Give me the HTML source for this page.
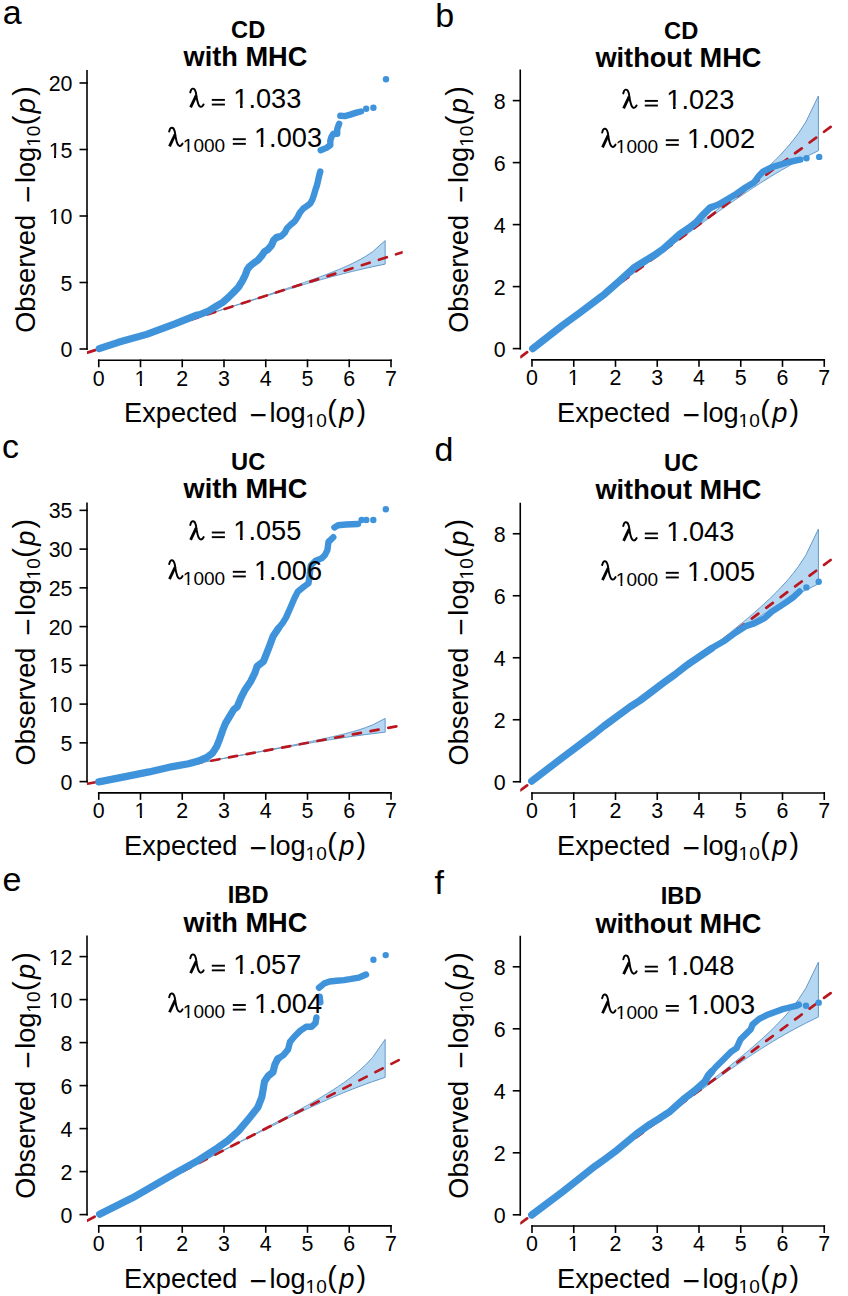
<!DOCTYPE html>
<html><head><meta charset="utf-8"><title>QQ plots</title><style>html,body{margin:0;padding:0;background:#fff;}svg{display:block;}</style></head><body>
<svg width="848" height="1296" viewBox="0 0 848 1296" font-family="&quot;Liberation Sans&quot;, sans-serif">
<rect width="848" height="1296" fill="#fff"/>
<clipPath id="clip00"><rect x="87" y="49" width="315.69" height="311.25"/></clipPath>
<polygon points="385.16,240.61 372.59,251.79 365.24,256.6 360.02,259.56 355.97,261.68 352.67,263.31 349.87,264.63 347.45,265.74 345.32,266.7 343.41,267.53 341.68,268.27 340.1,268.94 338.65,269.54 337.3,270.1 336.05,270.61 334.88,271.08 333.78,271.52 332.75,271.94 331.77,272.32 330.84,272.69 329.95,273.04 328.3,273.67 327.53,273.97 326.79,274.26 326.08,274.53 324.74,275.04 324.1,275.28 322.89,275.73 321.76,276.16 321.22,276.36 320.18,276.74 319.2,277.1 318.27,277.45 316.96,277.93 316.13,278.23 315.34,278.51 314.22,278.92 313.17,279.3 312.49,279.54 311.53,279.89 310.32,280.32 309.47,280.62 308.65,280.91 307.61,281.28 306.63,281.62 305.7,281.95 304.6,282.34 303.77,282.63 302.78,282.97 301.84,283.3 300.94,283.61 299.93,283.96 298.96,284.3 298.05,284.61 297.04,284.96 296.08,285.29 295.17,285.6 294.18,285.94 293.25,286.26 292.25,286.6 291.3,286.92 290.31,287.26 289.36,287.58 288.46,287.88 287.44,288.23 286.47,288.55 285.56,288.86 284.61,289.18 283.65,289.5 282.67,289.83 281.74,290.14 280.74,290.48 279.79,290.79 278.84,291.11 277.88,291.43 276.93,291.75 275.98,292.06 275,292.39 274.06,292.7 273.1,293.02 272.15,293.33 271.18,293.65 270.22,293.97 269.26,294.29 268.31,294.6 267.36,294.91 266.4,295.23 265.44,295.54 264.48,295.86 263.53,296.17 262.56,296.49 261.62,296.8 260.65,297.11 259.69,297.43 258.73,297.74 257.77,298.06 256.81,298.37 255.86,298.68 254.9,298.99 253.95,299.3 252.98,299.62 252.03,299.93 251.07,300.24 250.11,300.55 249.16,300.86 248.2,301.17 247.24,301.48 246.28,301.79 245.32,302.1 244.37,302.41 243.41,302.73 242.45,303.03 241.5,303.34 240.54,303.65 239.58,303.96 238.62,304.27 237.66,304.58 236.7,304.89 235.75,305.2 234.79,305.51 233.83,305.82 232.88,306.13 231.92,306.44 230.96,306.75 230,307.06 229.04,307.36 228.09,307.67 227.13,307.98 226.17,308.29 225.21,308.6 224.26,308.91 223.3,309.21 222.34,309.52 221.38,309.83 220.42,310.14 219.47,310.45 218.51,310.75 217.55,311.06 216.59,311.37 215.64,311.68 214.68,311.98 213.72,312.29 212.76,312.6 211.8,312.91 210.85,313.21 209.89,313.52 208.93,313.83 207.97,314.13 207.02,314.44 206.06,314.75 205.1,315.05 204.14,315.36 203.18,315.67 202.23,315.97 201.27,316.28 200.31,316.59 199.35,316.89 198.4,317.2 197.44,317.51 196.48,317.81 195.52,318.12 194.57,318.43 193.61,318.73 192.65,319.04 191.69,319.35 190.73,319.65 189.78,319.96 188.82,320.27 187.86,320.57 186.9,320.88 185.95,321.18 184.99,321.49 184.03,321.8 183.07,322.1 182.11,322.41 181.16,322.71 180.2,323.02 179.24,323.33 178.28,323.63 177.33,323.94 176.37,324.24 175.41,324.55 174.45,324.86 173.5,325.16 172.54,325.47 171.58,325.77 170.62,326.08 169.66,326.38 168.71,326.69 167.75,327 166.79,327.3 165.83,327.61 164.88,327.91 163.92,328.22 162.96,328.52 162,328.83 161.04,329.14 160.09,329.44 159.13,329.75 158.17,330.05 157.21,330.36 156.26,330.66 155.3,330.97 154.34,331.27 153.38,331.58 152.42,331.89 151.47,332.19 150.51,332.5 149.55,332.8 148.59,333.11 147.64,333.41 146.68,333.72 145.72,334.02 144.76,334.33 143.81,334.64 142.85,334.94 141.89,335.25 140.93,335.55 139.97,335.86 139.02,336.16 138.06,336.47 137.1,336.77 136.14,337.08 135.19,337.38 134.23,337.69 133.27,337.99 132.31,338.3 131.35,338.61 130.4,338.91 129.44,339.22 128.48,339.52 127.52,339.83 126.57,340.13 125.61,340.44 124.65,340.74 123.69,341.05 122.74,341.35 121.78,341.66 120.82,341.96 119.86,342.27 118.9,342.57 117.95,342.88 116.99,343.19 116.03,343.49 115.07,343.8 114.12,344.1 113.16,344.41 112.2,344.71 111.24,345.02 110.28,345.32 109.33,345.63 108.37,345.93 107.41,346.24 106.45,346.54 105.5,346.85 104.54,347.15 103.58,347.46 102.62,347.76 101.66,348.07 100.71,348.38 99.75,348.68 98.79,348.99 98.79,348.99 99.75,348.68 100.71,348.38 101.66,348.07 102.62,347.77 103.58,347.46 104.54,347.16 105.5,346.85 106.45,346.55 107.41,346.24 108.37,345.94 109.33,345.63 110.28,345.33 111.24,345.02 112.2,344.72 113.16,344.41 114.12,344.11 115.07,343.8 116.03,343.5 116.99,343.19 117.95,342.89 118.9,342.58 119.86,342.28 120.82,341.97 121.78,341.67 122.74,341.37 123.69,341.06 124.65,340.76 125.61,340.45 126.57,340.15 127.52,339.84 128.48,339.54 129.44,339.23 130.4,338.93 131.35,338.62 132.31,338.32 133.27,338.01 134.23,337.71 135.19,337.4 136.14,337.1 137.1,336.79 138.06,336.49 139.02,336.18 139.97,335.88 140.93,335.57 141.89,335.27 142.85,334.96 143.81,334.66 144.76,334.35 145.72,334.05 146.68,333.74 147.64,333.44 148.59,333.14 149.55,332.83 150.51,332.53 151.47,332.22 152.42,331.92 153.38,331.61 154.34,331.31 155.3,331 156.26,330.7 157.21,330.39 158.17,330.09 159.13,329.78 160.09,329.48 161.04,329.17 162,328.87 162.96,328.57 163.92,328.26 164.88,327.96 165.83,327.65 166.79,327.35 167.75,327.04 168.71,326.74 169.66,326.43 170.62,326.13 171.58,325.83 172.54,325.52 173.5,325.22 174.45,324.91 175.41,324.61 176.37,324.3 177.33,324 178.28,323.69 179.24,323.39 180.2,323.09 181.16,322.78 182.11,322.48 183.07,322.17 184.03,321.87 184.99,321.57 185.95,321.26 186.9,320.96 187.86,320.65 188.82,320.35 189.78,320.05 190.73,319.74 191.69,319.44 192.65,319.13 193.61,318.83 194.57,318.53 195.52,318.22 196.48,317.92 197.44,317.61 198.4,317.31 199.35,317.01 200.31,316.7 201.27,316.4 202.23,316.1 203.18,315.79 204.14,315.49 205.1,315.19 206.06,314.88 207.02,314.58 207.97,314.28 208.93,313.97 209.89,313.67 210.85,313.37 211.8,313.06 212.76,312.76 213.72,312.46 214.68,312.16 215.64,311.85 216.59,311.55 217.55,311.25 218.51,310.94 219.47,310.64 220.42,310.34 221.38,310.04 222.34,309.73 223.3,309.43 224.26,309.13 225.21,308.83 226.17,308.53 227.13,308.22 228.09,307.92 229.04,307.62 230,307.32 230.96,307.02 231.92,306.72 232.88,306.41 233.83,306.11 234.79,305.81 235.75,305.51 236.7,305.21 237.66,304.91 238.62,304.61 239.58,304.31 240.54,304.01 241.5,303.71 242.45,303.4 243.41,303.11 244.37,302.81 245.32,302.51 246.28,302.21 247.24,301.91 248.2,301.61 249.16,301.31 250.11,301.01 251.07,300.71 252.03,300.41 252.98,300.11 253.95,299.81 254.9,299.52 255.86,299.22 256.81,298.92 257.77,298.62 258.73,298.32 259.69,298.03 260.65,297.73 261.62,297.43 262.56,297.14 263.53,296.84 264.48,296.54 265.44,296.24 266.4,295.95 267.36,295.65 268.31,295.36 269.26,295.06 270.22,294.77 271.18,294.47 272.15,294.17 273.1,293.88 274.06,293.59 275,293.3 275.98,293 276.93,292.71 277.88,292.42 278.84,292.12 279.79,291.83 280.74,291.55 281.74,291.24 282.67,290.96 283.65,290.66 284.61,290.37 285.56,290.08 286.47,289.8 287.44,289.51 288.46,289.2 289.36,288.93 290.31,288.65 291.3,288.35 292.25,288.07 293.25,287.77 294.18,287.49 295.17,287.19 296.08,286.92 297.04,286.64 298.05,286.34 298.96,286.06 299.93,285.78 300.94,285.48 301.84,285.22 302.78,284.94 303.77,284.65 304.6,284.4 305.7,284.08 306.63,283.81 307.61,283.52 308.65,283.22 309.47,282.99 310.32,282.74 311.53,282.39 312.49,282.11 313.17,281.92 314.22,281.62 315.34,281.3 316.13,281.07 316.96,280.84 318.27,280.47 319.2,280.2 320.18,279.93 321.22,279.64 321.76,279.48 322.89,279.17 324.1,278.83 324.74,278.66 326.08,278.28 326.79,278.09 327.53,277.89 328.3,277.67 329.95,277.22 330.84,276.98 331.77,276.73 332.75,276.47 333.78,276.19 334.88,275.9 336.05,275.59 337.3,275.26 338.65,274.9 340.1,274.52 341.68,274.11 343.41,273.67 345.32,273.18 347.45,272.64 349.87,272.04 352.67,271.35 355.97,270.55 360.02,269.59 365.24,268.39 372.59,266.75 385.16,264.1" fill="#b6d7f1" stroke="#6499c9" stroke-width="1" stroke-linejoin="round"/>
<line x1="87" y1="352.74" x2="402.69" y2="252.18" stroke="#b9161f" stroke-width="2.7" stroke-linecap="round" stroke-dasharray="8.2 9.8" stroke-dashoffset="-0.4" clip-path="url(#clip00)"/>
<path d="M99.2 348.6 L118.3 342.3 L146.6 334.4 L174.9 323.8 L196.1 315.3 L200 314.5 L208.5 311 L215.6 306.7 L222.6 302.5 L228.3 297.5 L234 291.9 L238.2 287.6 L242.5 280.7 L245.3 275 L247.4 269.3 L249.5 266.5 L253.8 263 L258 260.1 L261.6 255.9 L264.4 251.7 L267.9 249.5 L271.5 245.3 L273.6 240.3 L276.4 237.5 L278.27 236.97" fill="none" stroke="#3f93db" stroke-width="7.2" stroke-linecap="round" stroke-linejoin="round"/>
<path d="M278.27 236.97 L281.4 236.1 L284.9 232.5 L287 228.3 L290.6 224.8 L294.8 221.2 L297.6 217 L299.8 212.7 L303.3 208.5 L307.5 205.7 L310.4 203.3 L312.3 199.8 L314 194.8 L315.4 189.9 L317.1 184.9 L318.2 180 L319.3 175 L320.3 171.5" fill="none" stroke="#3f93db" stroke-width="6.4" stroke-linecap="round" stroke-linejoin="round"/>
<path d="M320.7 150.2 L326.5 147.9 L330.3 145.2 L330.3 140.6 L331.5 136.8 L333.4 133.7 L337.2 133.7 L337.2 129.1 L339.1 123.8" fill="none" stroke="#3f93db" stroke-width="6.4" stroke-linecap="round" stroke-linejoin="round"/>
<path d="M340.3 115.7 L344.9 116.1 L349.5 114.9 L356.4 112.6 L361 111.5" fill="none" stroke="#3f93db" stroke-width="6.4" stroke-linecap="round" stroke-linejoin="round"/>
<circle cx="366.2" cy="108.7" r="3.2" fill="#3f93db"/>
<circle cx="373.4" cy="107.7" r="3.2" fill="#3f93db"/>
<circle cx="386" cy="79.2" r="3.2" fill="#3f93db"/>
<path d="M87 70 V349.8" stroke="#000" stroke-width="1.6" fill="none"/>
<path d="M79.5 349 H87.8" stroke="#000" stroke-width="1.6"/>
<text x="72.5" y="357" font-size="21.4" text-anchor="end">0</text>
<path d="M79.5 282.5 H87.8" stroke="#000" stroke-width="1.6"/>
<text x="72.5" y="290.5" font-size="21.4" text-anchor="end">5</text>
<path d="M79.5 216 H87.8" stroke="#000" stroke-width="1.6"/>
<text x="72.5" y="224" font-size="21.4" text-anchor="end">10</text>
<rect x="49.06" y="221.2" width="4.93" height="3.8" fill="#fff"/>
<rect x="56.05" y="221.2" width="4.57" height="3.8" fill="#fff"/>
<path d="M79.5 149.5 H87.8" stroke="#000" stroke-width="1.6"/>
<text x="72.5" y="157.5" font-size="21.4" text-anchor="end">15</text>
<rect x="49.06" y="154.7" width="4.93" height="3.8" fill="#fff"/>
<rect x="56.05" y="154.7" width="4.57" height="3.8" fill="#fff"/>
<path d="M79.5 83 H87.8" stroke="#000" stroke-width="1.6"/>
<text x="72.5" y="91" font-size="21.4" text-anchor="end">20</text>
<path d="M97.95 360.25 H391.8" stroke="#000" stroke-width="1.6" fill="none"/>
<path d="M98.75 359.45 V367.25" stroke="#000" stroke-width="1.6"/>
<text x="98.75" y="385.5" font-size="21.4" text-anchor="middle">0</text>
<path d="M140.5 359.45 V367.25" stroke="#000" stroke-width="1.6"/>
<text x="140.5" y="385.5" font-size="21.4" text-anchor="middle">1</text>
<rect x="134.92" y="382.7" width="4.93" height="3.8" fill="#fff"/>
<rect x="141.9" y="382.7" width="4.57" height="3.8" fill="#fff"/>
<path d="M182.25 359.45 V367.25" stroke="#000" stroke-width="1.6"/>
<text x="182.25" y="385.5" font-size="21.4" text-anchor="middle">2</text>
<path d="M224 359.45 V367.25" stroke="#000" stroke-width="1.6"/>
<text x="224" y="385.5" font-size="21.4" text-anchor="middle">3</text>
<path d="M265.75 359.45 V367.25" stroke="#000" stroke-width="1.6"/>
<text x="265.75" y="385.5" font-size="21.4" text-anchor="middle">4</text>
<path d="M307.5 359.45 V367.25" stroke="#000" stroke-width="1.6"/>
<text x="307.5" y="385.5" font-size="21.4" text-anchor="middle">5</text>
<path d="M349.25 359.45 V367.25" stroke="#000" stroke-width="1.6"/>
<text x="349.25" y="385.5" font-size="21.4" text-anchor="middle">6</text>
<path d="M391 359.45 V367.25" stroke="#000" stroke-width="1.6"/>
<text x="391" y="385.5" font-size="21.4" text-anchor="middle">7</text>
<text x="124.1" y="422" font-size="27.2">Expected</text>
<text x="249.4" y="425.1" font-size="29.8">−</text>
<text x="269.4" y="422" font-size="27.2">log</text>
<text x="305.6" y="427" font-size="19.04">10</text>
<rect x="305.79" y="424.38" width="4.51" height="3.62" fill="#fff"/>
<rect x="312.15" y="424.38" width="4.16" height="3.62" fill="#fff"/>
<text x="327.2" y="421.2" font-size="28.8">(</text>
<text x="339.2" y="422" font-size="27.2" font-style="italic">p</text>
<text x="356.6" y="421.2" font-size="28.8">)</text>
<g transform="translate(35.1 332.85) rotate(-90)">
<text x="0" y="0" font-size="27.2">Observed</text>
<text x="129.8" y="3.1" font-size="29.8">−</text>
<text x="149.8" y="0" font-size="27.2">log</text>
<text x="186" y="5" font-size="19.04">10</text>
<rect x="186.19" y="2.38" width="4.51" height="3.62" fill="#fff"/>
<rect x="192.55" y="2.38" width="4.16" height="3.62" fill="#fff"/>
<text x="207.6" y="-0.8" font-size="28.8">(</text>
<text x="219.6" y="0" font-size="27.2" font-style="italic">p</text>
<text x="237" y="-0.8" font-size="28.8">)</text>
</g>
<text x="248.15" y="37.6" font-size="23.7" text-anchor="middle" font-weight="bold">CD</text>
<text x="245.45" y="65.8" font-size="27.2" text-anchor="middle" font-weight="bold">with MHC</text>
<path d="M190.28 92.4 C190.43 91.95 190.8 90.33 191.19 89.7 C191.58 89.07 192.05 88.68 192.61 88.63 C193.17 88.58 194.02 88.76 194.56 89.4 C195.1 90.05 195.54 91.28 195.86 92.5 C196.18 93.72 196.24 95.27 196.5 96.7 C196.76 98.13 197.04 99.7 197.41 101.08 C197.78 102.46 198.18 104.02 198.7 104.97 C199.22 105.92 199.92 106.57 200.53 106.79 C201.14 107.01 201.82 106.66 202.34 106.27 C202.86 105.88 203.42 104.75 203.64 104.45" fill="none" stroke="#000" stroke-width="1.95" stroke-linecap="round" stroke-linejoin="round"/>
<path d="M196.25 95.3 L190.6 107.35" fill="none" stroke="#000" stroke-width="2.8" stroke-linecap="butt"/>
<rect x="211.8" y="98.95" width="13.1" height="1.9"/>
<rect x="211.8" y="103.6" width="13.1" height="1.9"/>
<text x="233.3" y="107.7" font-size="27.2">1.033</text>
<rect x="234.09" y="104.47" width="5.97" height="4.23" fill="#fff"/>
<rect x="242.62" y="104.47" width="5.56" height="4.23" fill="#fff"/>
<path d="M169.18 131.5 C169.33 131.05 169.7 129.43 170.09 128.8 C170.48 128.17 170.95 127.78 171.51 127.73 C172.07 127.68 172.92 127.86 173.46 128.5 C174 129.15 174.44 130.38 174.76 131.6 C175.08 132.82 175.14 134.37 175.4 135.8 C175.66 137.23 175.94 138.8 176.31 140.18 C176.68 141.56 177.08 143.12 177.6 144.07 C178.12 145.02 178.82 145.67 179.43 145.89 C180.04 146.11 180.72 145.76 181.24 145.37 C181.76 144.98 182.32 143.85 182.54 143.55" fill="none" stroke="#000" stroke-width="1.95" stroke-linecap="round" stroke-linejoin="round"/>
<path d="M175.15 134.4 L169.5 146.45" fill="none" stroke="#000" stroke-width="2.8" stroke-linecap="butt"/>
<text x="182.8" y="152.2" font-size="19.04">1000</text>
<rect x="182.99" y="149.58" width="4.51" height="3.62" fill="#fff"/>
<rect x="189.35" y="149.58" width="4.16" height="3.62" fill="#fff"/>
<rect x="232.8" y="138.25" width="13" height="1.9"/>
<rect x="232.8" y="142.9" width="13" height="1.9"/>
<text x="254" y="147" font-size="27.2">1.003</text>
<rect x="254.79" y="143.77" width="5.97" height="4.23" fill="#fff"/>
<rect x="263.32" y="143.77" width="5.56" height="4.23" fill="#fff"/>
<text x="2.76" y="24.4" font-size="34">a</text>
<clipPath id="clip10"><rect x="520.25" y="48.6" width="315.69" height="311.25"/></clipPath>
<polygon points="818.41,95.95 805.84,122.01 798.49,133.23 793.27,140.14 789.22,145.07 785.92,148.87 783.12,151.95 780.7,154.54 778.57,156.76 776.66,158.71 774.93,160.44 773.35,161.99 771.9,163.4 770.55,164.69 769.3,165.89 768.13,166.99 767.03,168.02 766,168.98 765.02,169.88 764.09,170.73 763.2,171.54 761.55,173.03 760.78,173.72 760.04,174.38 759.33,175.02 757.99,176.2 757.35,176.76 756.14,177.82 755.01,178.81 754.47,179.28 753.43,180.18 752.45,181.02 751.52,181.82 750.21,182.94 749.38,183.64 748.59,184.3 747.47,185.25 746.42,186.14 745.74,186.7 744.78,187.51 743.57,188.51 742.72,189.22 741.9,189.9 740.86,190.75 739.88,191.56 738.95,192.32 737.85,193.22 737.02,193.9 736.03,194.71 735.09,195.47 734.19,196.19 733.18,197.01 732.21,197.79 731.3,198.52 730.29,199.33 729.33,200.1 728.42,200.83 727.43,201.61 726.5,202.36 725.5,203.15 724.55,203.9 723.56,204.69 722.61,205.44 721.71,206.14 720.69,206.95 719.72,207.71 718.81,208.43 717.86,209.17 716.9,209.92 715.92,210.69 714.99,211.42 713.99,212.19 713.04,212.93 712.09,213.67 711.13,214.41 710.18,215.15 709.23,215.88 708.25,216.65 707.31,217.37 706.35,218.11 705.4,218.85 704.43,219.59 703.47,220.33 702.51,221.07 701.56,221.8 700.61,222.53 699.65,223.27 698.69,224 697.73,224.73 696.78,225.46 695.81,226.21 694.87,226.92 693.9,227.66 692.94,228.39 691.98,229.13 691.02,229.86 690.06,230.58 689.11,231.31 688.15,232.04 687.2,232.76 686.23,233.5 685.28,234.22 684.32,234.95 683.36,235.67 682.41,236.39 681.45,237.12 680.49,237.85 679.53,238.57 678.57,239.29 677.62,240.02 676.66,240.74 675.7,241.46 674.75,242.18 673.79,242.91 672.83,243.63 671.87,244.35 670.91,245.07 669.95,245.79 669,246.52 668.04,247.23 667.08,247.96 666.13,248.67 665.17,249.39 664.21,250.11 663.25,250.83 662.29,251.55 661.34,252.27 660.38,252.99 659.42,253.71 658.46,254.43 657.51,255.15 656.55,255.87 655.59,256.58 654.63,257.3 653.67,258.02 652.72,258.74 651.76,259.45 650.8,260.17 649.84,260.89 648.89,261.6 647.93,262.32 646.97,263.04 646.01,263.75 645.05,264.47 644.1,265.18 643.14,265.9 642.18,266.62 641.22,267.33 640.27,268.05 639.31,268.76 638.35,269.48 637.39,270.19 636.43,270.91 635.48,271.62 634.52,272.34 633.56,273.05 632.6,273.77 631.65,274.48 630.69,275.2 629.73,275.91 628.77,276.63 627.82,277.34 626.86,278.05 625.9,278.77 624.94,279.48 623.98,280.2 623.03,280.91 622.07,281.62 621.11,282.34 620.15,283.05 619.2,283.76 618.24,284.48 617.28,285.19 616.32,285.91 615.36,286.62 614.41,287.33 613.45,288.05 612.49,288.76 611.53,289.47 610.58,290.18 609.62,290.9 608.66,291.61 607.7,292.32 606.75,293.04 605.79,293.75 604.83,294.46 603.87,295.17 602.91,295.89 601.96,296.6 601,297.31 600.04,298.03 599.08,298.74 598.13,299.45 597.17,300.16 596.21,300.88 595.25,301.59 594.29,302.3 593.34,303.01 592.38,303.72 591.42,304.44 590.46,305.15 589.51,305.86 588.55,306.57 587.59,307.29 586.63,308 585.67,308.71 584.72,309.42 583.76,310.13 582.8,310.85 581.84,311.56 580.89,312.27 579.93,312.98 578.97,313.69 578.01,314.41 577.06,315.12 576.1,315.83 575.14,316.54 574.18,317.25 573.22,317.97 572.27,318.68 571.31,319.39 570.35,320.1 569.39,320.81 568.44,321.52 567.48,322.24 566.52,322.95 565.56,323.66 564.6,324.37 563.65,325.08 562.69,325.8 561.73,326.51 560.77,327.22 559.82,327.93 558.86,328.64 557.9,329.35 556.94,330.07 555.99,330.78 555.03,331.49 554.07,332.2 553.11,332.91 552.15,333.62 551.2,334.34 550.24,335.05 549.28,335.76 548.32,336.47 547.37,337.18 546.41,337.89 545.45,338.6 544.49,339.32 543.53,340.03 542.58,340.74 541.62,341.45 540.66,342.16 539.7,342.87 538.75,343.59 537.79,344.3 536.83,345.01 535.87,345.72 534.91,346.43 533.96,347.14 533,347.86 532.04,348.57 532.04,348.57 533,347.86 533.96,347.15 534.91,346.44 535.87,345.73 536.83,345.02 537.79,344.31 538.75,343.6 539.7,342.89 540.66,342.18 541.62,341.46 542.58,340.75 543.53,340.04 544.49,339.33 545.45,338.62 546.41,337.91 547.37,337.2 548.32,336.49 549.28,335.78 550.24,335.07 551.2,334.36 552.15,333.65 553.11,332.94 554.07,332.23 555.03,331.51 555.99,330.8 556.94,330.09 557.9,329.38 558.86,328.67 559.82,327.96 560.77,327.25 561.73,326.54 562.69,325.83 563.65,325.12 564.6,324.41 565.56,323.7 566.52,322.99 567.48,322.28 568.44,321.57 569.39,320.86 570.35,320.15 571.31,319.44 572.27,318.72 573.22,318.01 574.18,317.3 575.14,316.59 576.1,315.88 577.06,315.17 578.01,314.46 578.97,313.75 579.93,313.04 580.89,312.33 581.84,311.62 582.8,310.91 583.76,310.2 584.72,309.49 585.67,308.78 586.63,308.07 587.59,307.36 588.55,306.65 589.51,305.94 590.46,305.23 591.42,304.52 592.38,303.81 593.34,303.1 594.29,302.39 595.25,301.68 596.21,300.97 597.17,300.26 598.13,299.55 599.08,298.84 600.04,298.13 601,297.42 601.96,296.71 602.91,296 603.87,295.29 604.83,294.58 605.79,293.87 606.75,293.16 607.7,292.46 608.66,291.75 609.62,291.04 610.58,290.33 611.53,289.62 612.49,288.91 613.45,288.2 614.41,287.49 615.36,286.78 616.32,286.07 617.28,285.36 618.24,284.66 619.2,283.95 620.15,283.24 621.11,282.53 622.07,281.82 623.03,281.11 623.98,280.4 624.94,279.7 625.9,278.99 626.86,278.28 627.82,277.57 628.77,276.86 629.73,276.15 630.69,275.45 631.65,274.74 632.6,274.03 633.56,273.32 634.52,272.62 635.48,271.91 636.43,271.2 637.39,270.49 638.35,269.79 639.31,269.08 640.27,268.37 641.22,267.67 642.18,266.96 643.14,266.25 644.1,265.55 645.05,264.84 646.01,264.13 646.97,263.43 647.93,262.72 648.89,262.02 649.84,261.31 650.8,260.61 651.76,259.9 652.72,259.19 653.67,258.49 654.63,257.79 655.59,257.08 656.55,256.38 657.51,255.67 658.46,254.97 659.42,254.26 660.38,253.56 661.34,252.86 662.29,252.15 663.25,251.45 664.21,250.74 665.17,250.04 666.13,249.34 667.08,248.64 668.04,247.93 669,247.23 669.95,246.53 670.91,245.83 671.87,245.13 672.83,244.43 673.79,243.73 674.75,243.03 675.7,242.33 676.66,241.63 677.62,240.93 678.57,240.23 679.53,239.53 680.49,238.83 681.45,238.13 682.41,237.44 683.36,236.74 684.32,236.04 685.28,235.34 686.23,234.65 687.2,233.95 688.15,233.26 689.11,232.56 690.06,231.87 691.02,231.18 691.98,230.48 692.94,229.79 693.9,229.09 694.87,228.39 695.81,227.71 696.78,227.01 697.73,226.32 698.69,225.63 699.65,224.94 700.61,224.25 701.56,223.56 702.51,222.88 703.47,222.19 704.43,221.51 705.4,220.81 706.35,220.13 707.31,219.44 708.25,218.77 709.23,218.07 710.18,217.39 711.13,216.71 712.09,216.03 713.04,215.36 713.99,214.68 714.99,213.97 715.92,213.32 716.9,212.62 717.86,211.94 718.81,211.27 719.72,210.62 720.69,209.94 721.71,209.22 722.61,208.59 723.56,207.93 724.55,207.23 725.5,206.57 726.5,205.88 727.43,205.22 728.42,204.54 729.33,203.9 730.29,203.24 731.3,202.54 732.21,201.91 733.18,201.24 734.19,200.54 735.09,199.93 736.03,199.28 737.02,198.61 737.85,198.04 738.95,197.29 739.88,196.65 740.86,195.99 741.9,195.29 742.72,194.73 743.57,194.16 744.78,193.34 745.74,192.7 746.42,192.25 747.47,191.54 748.59,190.79 749.38,190.27 750.21,189.72 751.52,188.86 752.45,188.25 753.43,187.6 754.47,186.93 755.01,186.57 756.14,185.83 757.35,185.05 757.99,184.64 759.33,183.77 760.04,183.32 760.78,182.84 761.55,182.35 763.2,181.3 764.09,180.74 765.02,180.16 766,179.54 767.03,178.89 768.13,178.21 769.3,177.49 770.55,176.71 771.9,175.89 773.35,175.01 774.93,174.05 776.66,173.02 778.57,171.88 780.7,170.62 783.12,169.22 785.92,167.61 789.22,165.75 793.27,163.51 798.49,160.71 805.84,156.9 818.41,150.71" fill="#b6d7f1" stroke="#6499c9" stroke-width="1" stroke-linejoin="round"/>
<line x1="520.25" y1="357.32" x2="835.94" y2="122.92" stroke="#b9161f" stroke-width="2.7" stroke-linecap="round" stroke-dasharray="8.2 9.8" stroke-dashoffset="-0.4" clip-path="url(#clip10)"/>
<path d="M532.7 348.6 L562.5 325.4 L580 312.7 L604.9 293.8 L620 280.5 L633.8 267.9 L644.2 261.3 L653.6 255.7 L663 249.1 L672.5 240.6 L680 234 L688.5 228.3 L696 222.6 L703.6 214.2 L710.1 207.8 L711.52 207.23" fill="none" stroke="#3f93db" stroke-width="7.2" stroke-linecap="round" stroke-linejoin="round"/>
<path d="M711.52 207.23 L718.9 204.3 L727.8 199 L736.6 193.7 L745.5 187.5 L754.3 182.2 L758.7 176 L763.1 171.6 L772 167.1 L780.8 164.5 L789.7 161.8 L797.6 160.1 L800.3 159.7" fill="none" stroke="#3f93db" stroke-width="6.4" stroke-linecap="round" stroke-linejoin="round"/>
<circle cx="806.5" cy="158.3" r="3.2" fill="#3f93db"/>
<circle cx="819.2" cy="156.9" r="3.2" fill="#3f93db"/>
<path d="M520.25 69.6 V349.4" stroke="#000" stroke-width="1.6" fill="none"/>
<path d="M512.75 348.6 H521.05" stroke="#000" stroke-width="1.6"/>
<text x="505.75" y="356.6" font-size="21.4" text-anchor="end">0</text>
<path d="M512.75 286.6 H521.05" stroke="#000" stroke-width="1.6"/>
<text x="505.75" y="294.6" font-size="21.4" text-anchor="end">2</text>
<path d="M512.75 224.6 H521.05" stroke="#000" stroke-width="1.6"/>
<text x="505.75" y="232.6" font-size="21.4" text-anchor="end">4</text>
<path d="M512.75 162.6 H521.05" stroke="#000" stroke-width="1.6"/>
<text x="505.75" y="170.6" font-size="21.4" text-anchor="end">6</text>
<path d="M512.75 100.6 H521.05" stroke="#000" stroke-width="1.6"/>
<text x="505.75" y="108.6" font-size="21.4" text-anchor="end">8</text>
<path d="M531.2 359.85 H825.05" stroke="#000" stroke-width="1.6" fill="none"/>
<path d="M532 359.05 V366.85" stroke="#000" stroke-width="1.6"/>
<text x="532" y="385.1" font-size="21.4" text-anchor="middle">0</text>
<path d="M573.75 359.05 V366.85" stroke="#000" stroke-width="1.6"/>
<text x="573.75" y="385.1" font-size="21.4" text-anchor="middle">1</text>
<rect x="568.17" y="382.3" width="4.93" height="3.8" fill="#fff"/>
<rect x="575.15" y="382.3" width="4.57" height="3.8" fill="#fff"/>
<path d="M615.5 359.05 V366.85" stroke="#000" stroke-width="1.6"/>
<text x="615.5" y="385.1" font-size="21.4" text-anchor="middle">2</text>
<path d="M657.25 359.05 V366.85" stroke="#000" stroke-width="1.6"/>
<text x="657.25" y="385.1" font-size="21.4" text-anchor="middle">3</text>
<path d="M699 359.05 V366.85" stroke="#000" stroke-width="1.6"/>
<text x="699" y="385.1" font-size="21.4" text-anchor="middle">4</text>
<path d="M740.75 359.05 V366.85" stroke="#000" stroke-width="1.6"/>
<text x="740.75" y="385.1" font-size="21.4" text-anchor="middle">5</text>
<path d="M782.5 359.05 V366.85" stroke="#000" stroke-width="1.6"/>
<text x="782.5" y="385.1" font-size="21.4" text-anchor="middle">6</text>
<path d="M824.25 359.05 V366.85" stroke="#000" stroke-width="1.6"/>
<text x="824.25" y="385.1" font-size="21.4" text-anchor="middle">7</text>
<text x="557.1" y="421.6" font-size="27.2">Expected</text>
<text x="682.4" y="424.7" font-size="29.8">−</text>
<text x="702.4" y="421.6" font-size="27.2">log</text>
<text x="738.6" y="426.6" font-size="19.04">10</text>
<rect x="738.79" y="423.98" width="4.51" height="3.62" fill="#fff"/>
<rect x="745.15" y="423.98" width="4.16" height="3.62" fill="#fff"/>
<text x="760.2" y="420.8" font-size="28.8">(</text>
<text x="772.2" y="421.6" font-size="27.2" font-style="italic">p</text>
<text x="789.6" y="420.8" font-size="28.8">)</text>
<g transform="translate(468.1 332.85) rotate(-90)">
<text x="0" y="0" font-size="27.2">Observed</text>
<text x="129.8" y="3.1" font-size="29.8">−</text>
<text x="149.8" y="0" font-size="27.2">log</text>
<text x="186" y="5" font-size="19.04">10</text>
<rect x="186.19" y="2.38" width="4.51" height="3.62" fill="#fff"/>
<rect x="192.55" y="2.38" width="4.16" height="3.62" fill="#fff"/>
<text x="207.6" y="-0.8" font-size="28.8">(</text>
<text x="219.6" y="0" font-size="27.2" font-style="italic">p</text>
<text x="237" y="-0.8" font-size="28.8">)</text>
</g>
<text x="681.15" y="38.6" font-size="23.7" text-anchor="middle" font-weight="bold">CD</text>
<text x="678.45" y="66.8" font-size="27.2" text-anchor="middle" font-weight="bold">without MHC</text>
<path d="M623.28 93.4 C623.43 92.95 623.8 91.33 624.19 90.7 C624.58 90.07 625.05 89.68 625.61 89.63 C626.17 89.58 627.02 89.76 627.56 90.4 C628.1 91.05 628.54 92.28 628.86 93.5 C629.18 94.72 629.24 96.27 629.5 97.7 C629.76 99.13 630.04 100.7 630.41 102.08 C630.78 103.46 631.18 105.02 631.7 105.97 C632.22 106.92 632.92 107.57 633.53 107.79 C634.14 108.01 634.82 107.66 635.34 107.27 C635.86 106.88 636.42 105.75 636.64 105.45" fill="none" stroke="#000" stroke-width="1.95" stroke-linecap="round" stroke-linejoin="round"/>
<path d="M629.25 96.3 L623.6 108.35" fill="none" stroke="#000" stroke-width="2.8" stroke-linecap="butt"/>
<rect x="644.8" y="99.95" width="13.1" height="1.9"/>
<rect x="644.8" y="104.6" width="13.1" height="1.9"/>
<text x="666.3" y="108.7" font-size="27.2">1.023</text>
<rect x="667.09" y="105.47" width="5.97" height="4.23" fill="#fff"/>
<rect x="675.62" y="105.47" width="5.56" height="4.23" fill="#fff"/>
<path d="M602.18 132.5 C602.33 132.05 602.7 130.43 603.09 129.8 C603.48 129.17 603.95 128.78 604.51 128.73 C605.07 128.68 605.92 128.85 606.46 129.5 C607 130.15 607.44 131.38 607.76 132.6 C608.08 133.82 608.14 135.37 608.4 136.8 C608.66 138.23 608.94 139.8 609.31 141.18 C609.68 142.56 610.08 144.12 610.6 145.07 C611.12 146.02 611.82 146.67 612.43 146.89 C613.04 147.11 613.72 146.76 614.24 146.37 C614.76 145.98 615.32 144.85 615.54 144.55" fill="none" stroke="#000" stroke-width="1.95" stroke-linecap="round" stroke-linejoin="round"/>
<path d="M608.15 135.4 L602.5 147.45" fill="none" stroke="#000" stroke-width="2.8" stroke-linecap="butt"/>
<text x="615.8" y="153.2" font-size="19.04">1000</text>
<rect x="615.99" y="150.58" width="4.51" height="3.62" fill="#fff"/>
<rect x="622.35" y="150.58" width="4.16" height="3.62" fill="#fff"/>
<rect x="665.8" y="139.25" width="13" height="1.9"/>
<rect x="665.8" y="143.9" width="13" height="1.9"/>
<text x="687" y="148" font-size="27.2">1.002</text>
<rect x="687.79" y="144.77" width="5.97" height="4.23" fill="#fff"/>
<rect x="696.32" y="144.77" width="5.56" height="4.23" fill="#fff"/>
<text x="435.2" y="27" font-size="34">b</text>
<clipPath id="clip01"><rect x="87" y="481.6" width="315.69" height="311.25"/></clipPath>
<polygon points="385.16,718.44 372.59,724.95 365.24,727.76 360.02,729.49 355.97,730.72 352.67,731.67 349.87,732.44 347.45,733.08 345.32,733.64 343.41,734.13 341.68,734.56 340.1,734.95 338.65,735.3 337.3,735.62 336.05,735.92 334.88,736.2 333.78,736.45 332.75,736.69 331.77,736.92 330.84,737.13 329.95,737.33 328.3,737.71 327.53,737.88 326.79,738.05 326.08,738.2 324.74,738.5 324.1,738.64 322.89,738.91 321.76,739.15 321.22,739.27 320.18,739.49 319.2,739.71 318.27,739.9 316.96,740.18 316.13,740.36 315.34,740.53 314.22,740.76 313.17,740.98 312.49,741.13 311.53,741.33 310.32,741.58 309.47,741.76 308.65,741.92 307.61,742.14 306.63,742.34 305.7,742.53 304.6,742.75 303.77,742.92 302.78,743.13 301.84,743.32 300.94,743.5 299.93,743.7 298.96,743.9 298.05,744.08 297.04,744.28 296.08,744.48 295.17,744.66 294.18,744.85 293.25,745.04 292.25,745.24 291.3,745.43 290.31,745.62 289.36,745.81 288.46,745.99 287.44,746.19 286.47,746.38 285.56,746.56 284.61,746.74 283.65,746.93 282.67,747.12 281.74,747.3 280.74,747.5 279.79,747.68 278.84,747.87 277.88,748.05 276.93,748.24 275.98,748.42 275,748.61 274.06,748.79 273.1,748.98 272.15,749.16 271.18,749.35 270.22,749.53 269.26,749.72 268.31,749.9 267.36,750.08 266.4,750.27 265.44,750.45 264.48,750.63 263.53,750.82 262.56,751 261.62,751.18 260.65,751.37 259.69,751.55 258.73,751.73 257.77,751.91 256.81,752.1 255.86,752.28 254.9,752.46 253.95,752.64 252.98,752.82 252.03,753 251.07,753.19 250.11,753.37 249.16,753.55 248.2,753.73 247.24,753.91 246.28,754.09 245.32,754.27 244.37,754.45 243.41,754.64 242.45,754.82 241.5,755 240.54,755.18 239.58,755.36 238.62,755.54 237.66,755.72 236.7,755.9 235.75,756.08 234.79,756.26 233.83,756.44 232.88,756.62 231.92,756.8 230.96,756.98 230,757.16 229.04,757.34 228.09,757.52 227.13,757.7 226.17,757.88 225.21,758.06 224.26,758.24 223.3,758.42 222.34,758.6 221.38,758.78 220.42,758.95 219.47,759.13 218.51,759.31 217.55,759.49 216.59,759.67 215.64,759.85 214.68,760.03 213.72,760.21 212.76,760.39 211.8,760.57 210.85,760.75 209.89,760.93 208.93,761.1 207.97,761.28 207.02,761.46 206.06,761.64 205.1,761.82 204.14,762 203.18,762.18 202.23,762.36 201.27,762.53 200.31,762.71 199.35,762.89 198.4,763.07 197.44,763.25 196.48,763.43 195.52,763.61 194.57,763.79 193.61,763.96 192.65,764.14 191.69,764.32 190.73,764.5 189.78,764.68 188.82,764.86 187.86,765.03 186.9,765.21 185.95,765.39 184.99,765.57 184.03,765.75 183.07,765.93 182.11,766.1 181.16,766.28 180.2,766.46 179.24,766.64 178.28,766.82 177.33,767 176.37,767.17 175.41,767.35 174.45,767.53 173.5,767.71 172.54,767.89 171.58,768.07 170.62,768.24 169.66,768.42 168.71,768.6 167.75,768.78 166.79,768.96 165.83,769.13 164.88,769.31 163.92,769.49 162.96,769.67 162,769.85 161.04,770.03 160.09,770.2 159.13,770.38 158.17,770.56 157.21,770.74 156.26,770.92 155.3,771.09 154.34,771.27 153.38,771.45 152.42,771.63 151.47,771.81 150.51,771.98 149.55,772.16 148.59,772.34 147.64,772.52 146.68,772.7 145.72,772.87 144.76,773.05 143.81,773.23 142.85,773.41 141.89,773.59 140.93,773.76 139.97,773.94 139.02,774.12 138.06,774.3 137.1,774.48 136.14,774.65 135.19,774.83 134.23,775.01 133.27,775.19 132.31,775.37 131.35,775.54 130.4,775.72 129.44,775.9 128.48,776.08 127.52,776.25 126.57,776.43 125.61,776.61 124.65,776.79 123.69,776.97 122.74,777.14 121.78,777.32 120.82,777.5 119.86,777.68 118.9,777.86 117.95,778.03 116.99,778.21 116.03,778.39 115.07,778.57 114.12,778.75 113.16,778.92 112.2,779.1 111.24,779.28 110.28,779.46 109.33,779.63 108.37,779.81 107.41,779.99 106.45,780.17 105.5,780.35 104.54,780.52 103.58,780.7 102.62,780.88 101.66,781.06 100.71,781.24 99.75,781.41 98.79,781.59 98.79,781.59 99.75,781.41 100.71,781.24 101.66,781.06 102.62,780.88 103.58,780.7 104.54,780.53 105.5,780.35 106.45,780.17 107.41,779.99 108.37,779.82 109.33,779.64 110.28,779.46 111.24,779.28 112.2,779.11 113.16,778.93 114.12,778.75 115.07,778.57 116.03,778.39 116.99,778.22 117.95,778.04 118.9,777.86 119.86,777.68 120.82,777.51 121.78,777.33 122.74,777.15 123.69,776.97 124.65,776.8 125.61,776.62 126.57,776.44 127.52,776.26 128.48,776.09 129.44,775.91 130.4,775.73 131.35,775.55 132.31,775.37 133.27,775.2 134.23,775.02 135.19,774.84 136.14,774.66 137.1,774.49 138.06,774.31 139.02,774.13 139.97,773.95 140.93,773.78 141.89,773.6 142.85,773.42 143.81,773.24 144.76,773.07 145.72,772.89 146.68,772.71 147.64,772.53 148.59,772.36 149.55,772.18 150.51,772 151.47,771.82 152.42,771.65 153.38,771.47 154.34,771.29 155.3,771.11 156.26,770.94 157.21,770.76 158.17,770.58 159.13,770.4 160.09,770.23 161.04,770.05 162,769.87 162.96,769.69 163.92,769.52 164.88,769.34 165.83,769.16 166.79,768.98 167.75,768.81 168.71,768.63 169.66,768.45 170.62,768.27 171.58,768.1 172.54,767.92 173.5,767.74 174.45,767.56 175.41,767.39 176.37,767.21 177.33,767.03 178.28,766.85 179.24,766.68 180.2,766.5 181.16,766.32 182.11,766.15 183.07,765.97 184.03,765.79 184.99,765.61 185.95,765.44 186.9,765.26 187.86,765.08 188.82,764.91 189.78,764.73 190.73,764.55 191.69,764.37 192.65,764.2 193.61,764.02 194.57,763.84 195.52,763.67 196.48,763.49 197.44,763.31 198.4,763.13 199.35,762.96 200.31,762.78 201.27,762.6 202.23,762.43 203.18,762.25 204.14,762.07 205.1,761.9 206.06,761.72 207.02,761.54 207.97,761.37 208.93,761.19 209.89,761.01 210.85,760.84 211.8,760.66 212.76,760.48 213.72,760.31 214.68,760.13 215.64,759.95 216.59,759.78 217.55,759.6 218.51,759.43 219.47,759.25 220.42,759.07 221.38,758.9 222.34,758.72 223.3,758.54 224.26,758.37 225.21,758.19 226.17,758.02 227.13,757.84 228.09,757.66 229.04,757.49 230,757.31 230.96,757.14 231.92,756.96 232.88,756.78 233.83,756.61 234.79,756.43 235.75,756.26 236.7,756.08 237.66,755.91 238.62,755.73 239.58,755.56 240.54,755.38 241.5,755.21 242.45,755.03 243.41,754.86 244.37,754.68 245.32,754.51 246.28,754.33 247.24,754.16 248.2,753.98 249.16,753.81 250.11,753.63 251.07,753.46 252.03,753.29 252.98,753.11 253.95,752.94 254.9,752.76 255.86,752.59 256.81,752.42 257.77,752.24 258.73,752.07 259.69,751.9 260.65,751.72 261.62,751.55 262.56,751.38 263.53,751.2 264.48,751.03 265.44,750.86 266.4,750.69 267.36,750.51 268.31,750.34 269.26,750.17 270.22,750 271.18,749.83 272.15,749.65 273.1,749.48 274.06,749.31 275,749.14 275.98,748.97 276.93,748.8 277.88,748.63 278.84,748.46 279.79,748.29 280.74,748.12 281.74,747.94 282.67,747.78 283.65,747.61 284.61,747.43 285.56,747.27 286.47,747.11 287.44,746.94 288.46,746.76 289.36,746.6 290.31,746.43 291.3,746.26 292.25,746.09 293.25,745.92 294.18,745.76 295.17,745.58 296.08,745.43 297.04,745.26 298.05,745.08 298.96,744.93 299.93,744.76 300.94,744.59 301.84,744.43 302.78,744.27 303.77,744.1 304.6,743.96 305.7,743.77 306.63,743.61 307.61,743.45 308.65,743.27 309.47,743.13 310.32,742.99 311.53,742.79 312.49,742.62 313.17,742.51 314.22,742.34 315.34,742.15 316.13,742.02 316.96,741.88 318.27,741.66 319.2,741.51 320.18,741.35 321.22,741.18 321.76,741.09 322.89,740.91 324.1,740.71 324.74,740.61 326.08,740.39 326.79,740.28 327.53,740.16 328.3,740.04 329.95,739.78 330.84,739.64 331.77,739.49 332.75,739.34 333.78,739.17 334.88,739 336.05,738.82 337.3,738.63 338.65,738.42 340.1,738.2 341.68,737.96 343.41,737.7 345.32,737.42 347.45,737.11 349.87,736.75 352.67,736.35 355.97,735.89 360.02,735.33 365.24,734.63 372.59,733.68 385.16,732.13" fill="#b6d7f1" stroke="#6499c9" stroke-width="1" stroke-linejoin="round"/>
<line x1="87" y1="783.78" x2="402.69" y2="725.18" stroke="#b9161f" stroke-width="2.7" stroke-linecap="round" stroke-dasharray="8.2 9.8" stroke-dashoffset="-0.4" clip-path="url(#clip01)"/>
<path d="M98.8 781.9 L125.4 776.6 L149 771.9 L172.5 766.6 L188.5 763.8 L198.4 761 L206.9 757.4 L212.5 753.2 L216.8 746.3 L219.6 739.2 L222.5 730.8 L225.3 723.7 L229.5 716.6 L233.8 709.5 L237.3 706.7 L240.8 698.2 L245.1 689.7 L250.8 681.2 L255 672.7 L257.1 666.4 L263.5 661.4 L269.6 645.7 L273.1 636.2 L277.8 629.2 L278.27 628.6" fill="none" stroke="#3f93db" stroke-width="7.2" stroke-linecap="round" stroke-linejoin="round"/>
<path d="M278.27 628.6 L282.5 623.3 L286.1 617.4 L290.8 606.7 L294.3 598.5 L297.9 591.4 L303.8 586.7 L308.5 583.2 L309.7 574.9 L310.8 565.5 L315.6 560.8 L321.5 558.4 L325 554.9 L327.4 550.1 L328.5 541.9 L333.3 537.2" fill="none" stroke="#3f93db" stroke-width="6.4" stroke-linecap="round" stroke-linejoin="round"/>
<path d="M334.4 527.4 L338 525.3 L346 524.5 L358 524" fill="none" stroke="#3f93db" stroke-width="6.4" stroke-linecap="round" stroke-linejoin="round"/>
<circle cx="361.6" cy="520" r="3.2" fill="#3f93db"/>
<circle cx="366.3" cy="520" r="3.2" fill="#3f93db"/>
<circle cx="373.3" cy="520" r="3.2" fill="#3f93db"/>
<circle cx="385.8" cy="509.3" r="3.2" fill="#3f93db"/>
<path d="M87 502.6 V782.4" stroke="#000" stroke-width="1.6" fill="none"/>
<path d="M79.5 781.6 H87.8" stroke="#000" stroke-width="1.6"/>
<text x="72.5" y="789.6" font-size="21.4" text-anchor="end">0</text>
<path d="M79.5 742.85 H87.8" stroke="#000" stroke-width="1.6"/>
<text x="72.5" y="750.85" font-size="21.4" text-anchor="end">5</text>
<path d="M79.5 704.1 H87.8" stroke="#000" stroke-width="1.6"/>
<text x="72.5" y="712.1" font-size="21.4" text-anchor="end">10</text>
<rect x="49.06" y="709.3" width="4.93" height="3.8" fill="#fff"/>
<rect x="56.05" y="709.3" width="4.57" height="3.8" fill="#fff"/>
<path d="M79.5 665.35 H87.8" stroke="#000" stroke-width="1.6"/>
<text x="72.5" y="673.35" font-size="21.4" text-anchor="end">15</text>
<rect x="49.06" y="670.55" width="4.93" height="3.8" fill="#fff"/>
<rect x="56.05" y="670.55" width="4.57" height="3.8" fill="#fff"/>
<path d="M79.5 626.6 H87.8" stroke="#000" stroke-width="1.6"/>
<text x="72.5" y="634.6" font-size="21.4" text-anchor="end">20</text>
<path d="M79.5 587.85 H87.8" stroke="#000" stroke-width="1.6"/>
<text x="72.5" y="595.85" font-size="21.4" text-anchor="end">25</text>
<path d="M79.5 549.1 H87.8" stroke="#000" stroke-width="1.6"/>
<text x="72.5" y="557.1" font-size="21.4" text-anchor="end">30</text>
<path d="M79.5 510.35 H87.8" stroke="#000" stroke-width="1.6"/>
<text x="72.5" y="518.35" font-size="21.4" text-anchor="end">35</text>
<path d="M97.95 792.85 H391.8" stroke="#000" stroke-width="1.6" fill="none"/>
<path d="M98.75 792.05 V799.85" stroke="#000" stroke-width="1.6"/>
<text x="98.75" y="818.1" font-size="21.4" text-anchor="middle">0</text>
<path d="M140.5 792.05 V799.85" stroke="#000" stroke-width="1.6"/>
<text x="140.5" y="818.1" font-size="21.4" text-anchor="middle">1</text>
<rect x="134.92" y="815.3" width="4.93" height="3.8" fill="#fff"/>
<rect x="141.9" y="815.3" width="4.57" height="3.8" fill="#fff"/>
<path d="M182.25 792.05 V799.85" stroke="#000" stroke-width="1.6"/>
<text x="182.25" y="818.1" font-size="21.4" text-anchor="middle">2</text>
<path d="M224 792.05 V799.85" stroke="#000" stroke-width="1.6"/>
<text x="224" y="818.1" font-size="21.4" text-anchor="middle">3</text>
<path d="M265.75 792.05 V799.85" stroke="#000" stroke-width="1.6"/>
<text x="265.75" y="818.1" font-size="21.4" text-anchor="middle">4</text>
<path d="M307.5 792.05 V799.85" stroke="#000" stroke-width="1.6"/>
<text x="307.5" y="818.1" font-size="21.4" text-anchor="middle">5</text>
<path d="M349.25 792.05 V799.85" stroke="#000" stroke-width="1.6"/>
<text x="349.25" y="818.1" font-size="21.4" text-anchor="middle">6</text>
<path d="M391 792.05 V799.85" stroke="#000" stroke-width="1.6"/>
<text x="391" y="818.1" font-size="21.4" text-anchor="middle">7</text>
<text x="124.1" y="854.6" font-size="27.2">Expected</text>
<text x="249.4" y="857.7" font-size="29.8">−</text>
<text x="269.4" y="854.6" font-size="27.2">log</text>
<text x="305.6" y="859.6" font-size="19.04">10</text>
<rect x="305.79" y="856.98" width="4.51" height="3.62" fill="#fff"/>
<rect x="312.15" y="856.98" width="4.16" height="3.62" fill="#fff"/>
<text x="327.2" y="853.8" font-size="28.8">(</text>
<text x="339.2" y="854.6" font-size="27.2" font-style="italic">p</text>
<text x="356.6" y="853.8" font-size="28.8">)</text>
<g transform="translate(35.1 765.45) rotate(-90)">
<text x="0" y="0" font-size="27.2">Observed</text>
<text x="129.8" y="3.1" font-size="29.8">−</text>
<text x="149.8" y="0" font-size="27.2">log</text>
<text x="186" y="5" font-size="19.04">10</text>
<rect x="186.19" y="2.38" width="4.51" height="3.62" fill="#fff"/>
<rect x="192.55" y="2.38" width="4.16" height="3.62" fill="#fff"/>
<text x="207.6" y="-0.8" font-size="28.8">(</text>
<text x="219.6" y="0" font-size="27.2" font-style="italic">p</text>
<text x="237" y="-0.8" font-size="28.8">)</text>
</g>
<text x="248.15" y="470.2" font-size="23.7" text-anchor="middle" font-weight="bold">UC</text>
<text x="245.45" y="498.4" font-size="27.2" text-anchor="middle" font-weight="bold">with MHC</text>
<path d="M190.28 525 C190.43 524.55 190.8 522.93 191.19 522.3 C191.58 521.67 192.05 521.28 192.61 521.23 C193.17 521.18 194.02 521.36 194.56 522 C195.1 522.65 195.54 523.88 195.86 525.1 C196.18 526.32 196.24 527.87 196.5 529.3 C196.76 530.73 197.04 532.3 197.41 533.68 C197.78 535.06 198.18 536.62 198.7 537.57 C199.22 538.52 199.92 539.17 200.53 539.39 C201.14 539.61 201.82 539.26 202.34 538.87 C202.86 538.48 203.42 537.35 203.64 537.05" fill="none" stroke="#000" stroke-width="1.95" stroke-linecap="round" stroke-linejoin="round"/>
<path d="M196.25 527.9 L190.6 539.95" fill="none" stroke="#000" stroke-width="2.8" stroke-linecap="butt"/>
<rect x="211.8" y="531.55" width="13.1" height="1.9"/>
<rect x="211.8" y="536.2" width="13.1" height="1.9"/>
<text x="233.3" y="540.3" font-size="27.2">1.055</text>
<rect x="234.09" y="537.07" width="5.97" height="4.23" fill="#fff"/>
<rect x="242.62" y="537.07" width="5.56" height="4.23" fill="#fff"/>
<path d="M169.18 564.1 C169.33 563.65 169.7 562.03 170.09 561.4 C170.48 560.77 170.95 560.38 171.51 560.33 C172.07 560.28 172.92 560.46 173.46 561.1 C174 561.75 174.44 562.98 174.76 564.2 C175.08 565.42 175.14 566.97 175.4 568.4 C175.66 569.83 175.94 571.4 176.31 572.78 C176.68 574.16 177.08 575.72 177.6 576.67 C178.12 577.62 178.82 578.27 179.43 578.49 C180.04 578.71 180.72 578.36 181.24 577.97 C181.76 577.58 182.32 576.45 182.54 576.15" fill="none" stroke="#000" stroke-width="1.95" stroke-linecap="round" stroke-linejoin="round"/>
<path d="M175.15 567 L169.5 579.05" fill="none" stroke="#000" stroke-width="2.8" stroke-linecap="butt"/>
<text x="182.8" y="584.8" font-size="19.04">1000</text>
<rect x="182.99" y="582.18" width="4.51" height="3.62" fill="#fff"/>
<rect x="189.35" y="582.18" width="4.16" height="3.62" fill="#fff"/>
<rect x="232.8" y="570.85" width="13" height="1.9"/>
<rect x="232.8" y="575.5" width="13" height="1.9"/>
<text x="254" y="579.6" font-size="27.2">1.006</text>
<rect x="254.79" y="576.37" width="5.97" height="4.23" fill="#fff"/>
<rect x="263.32" y="576.37" width="5.56" height="4.23" fill="#fff"/>
<text x="2.06" y="457.7" font-size="34">c</text>
<clipPath id="clip11"><rect x="520.25" y="481.75" width="315.69" height="311.25"/></clipPath>
<polygon points="818.41,529.1 805.84,555.16 798.49,566.38 793.27,573.29 789.22,578.22 785.92,582.02 783.12,585.1 780.7,587.69 778.57,589.91 776.66,591.86 774.93,593.59 773.35,595.14 771.9,596.55 770.55,597.84 769.3,599.04 768.13,600.14 767.03,601.17 766,602.13 765.02,603.03 764.09,603.88 763.2,604.69 761.55,606.18 760.78,606.87 760.04,607.53 759.33,608.17 757.99,609.35 757.35,609.91 756.14,610.97 755.01,611.96 754.47,612.43 753.43,613.33 752.45,614.17 751.52,614.97 750.21,616.09 749.38,616.79 748.59,617.45 747.47,618.4 746.42,619.29 745.74,619.85 744.78,620.66 743.57,621.66 742.72,622.37 741.9,623.05 740.86,623.9 739.88,624.71 738.95,625.47 737.85,626.37 737.02,627.05 736.03,627.86 735.09,628.62 734.19,629.34 733.18,630.16 732.21,630.94 731.3,631.67 730.29,632.48 729.33,633.25 728.42,633.98 727.43,634.76 726.5,635.51 725.5,636.3 724.55,637.05 723.56,637.84 722.61,638.59 721.71,639.29 720.69,640.1 719.72,640.86 718.81,641.58 717.86,642.32 716.9,643.07 715.92,643.84 714.99,644.57 713.99,645.34 713.04,646.08 712.09,646.82 711.13,647.56 710.18,648.3 709.23,649.03 708.25,649.8 707.31,650.52 706.35,651.26 705.4,652 704.43,652.74 703.47,653.48 702.51,654.22 701.56,654.95 700.61,655.68 699.65,656.42 698.69,657.15 697.73,657.88 696.78,658.61 695.81,659.36 694.87,660.07 693.9,660.81 692.94,661.54 691.98,662.28 691.02,663.01 690.06,663.73 689.11,664.46 688.15,665.19 687.2,665.91 686.23,666.65 685.28,667.37 684.32,668.1 683.36,668.82 682.41,669.54 681.45,670.27 680.49,671 679.53,671.72 678.57,672.44 677.62,673.17 676.66,673.89 675.7,674.61 674.75,675.33 673.79,676.06 672.83,676.78 671.87,677.5 670.91,678.22 669.95,678.94 669,679.67 668.04,680.38 667.08,681.11 666.13,681.82 665.17,682.54 664.21,683.26 663.25,683.98 662.29,684.7 661.34,685.42 660.38,686.14 659.42,686.86 658.46,687.58 657.51,688.3 656.55,689.02 655.59,689.73 654.63,690.45 653.67,691.17 652.72,691.89 651.76,692.6 650.8,693.32 649.84,694.04 648.89,694.75 647.93,695.47 646.97,696.19 646.01,696.9 645.05,697.62 644.1,698.33 643.14,699.05 642.18,699.77 641.22,700.48 640.27,701.2 639.31,701.91 638.35,702.63 637.39,703.34 636.43,704.06 635.48,704.77 634.52,705.49 633.56,706.2 632.6,706.92 631.65,707.63 630.69,708.35 629.73,709.06 628.77,709.78 627.82,710.49 626.86,711.2 625.9,711.92 624.94,712.63 623.98,713.35 623.03,714.06 622.07,714.77 621.11,715.49 620.15,716.2 619.2,716.91 618.24,717.63 617.28,718.34 616.32,719.06 615.36,719.77 614.41,720.48 613.45,721.2 612.49,721.91 611.53,722.62 610.58,723.33 609.62,724.05 608.66,724.76 607.7,725.47 606.75,726.19 605.79,726.9 604.83,727.61 603.87,728.32 602.91,729.04 601.96,729.75 601,730.46 600.04,731.18 599.08,731.89 598.13,732.6 597.17,733.31 596.21,734.03 595.25,734.74 594.29,735.45 593.34,736.16 592.38,736.87 591.42,737.59 590.46,738.3 589.51,739.01 588.55,739.72 587.59,740.44 586.63,741.15 585.67,741.86 584.72,742.57 583.76,743.28 582.8,744 581.84,744.71 580.89,745.42 579.93,746.13 578.97,746.84 578.01,747.56 577.06,748.27 576.1,748.98 575.14,749.69 574.18,750.4 573.22,751.12 572.27,751.83 571.31,752.54 570.35,753.25 569.39,753.96 568.44,754.67 567.48,755.39 566.52,756.1 565.56,756.81 564.6,757.52 563.65,758.23 562.69,758.95 561.73,759.66 560.77,760.37 559.82,761.08 558.86,761.79 557.9,762.5 556.94,763.22 555.99,763.93 555.03,764.64 554.07,765.35 553.11,766.06 552.15,766.77 551.2,767.49 550.24,768.2 549.28,768.91 548.32,769.62 547.37,770.33 546.41,771.04 545.45,771.75 544.49,772.47 543.53,773.18 542.58,773.89 541.62,774.6 540.66,775.31 539.7,776.02 538.75,776.74 537.79,777.45 536.83,778.16 535.87,778.87 534.91,779.58 533.96,780.29 533,781.01 532.04,781.72 532.04,781.72 533,781.01 533.96,780.3 534.91,779.59 535.87,778.88 536.83,778.17 537.79,777.46 538.75,776.75 539.7,776.04 540.66,775.33 541.62,774.61 542.58,773.9 543.53,773.19 544.49,772.48 545.45,771.77 546.41,771.06 547.37,770.35 548.32,769.64 549.28,768.93 550.24,768.22 551.2,767.51 552.15,766.8 553.11,766.09 554.07,765.38 555.03,764.66 555.99,763.95 556.94,763.24 557.9,762.53 558.86,761.82 559.82,761.11 560.77,760.4 561.73,759.69 562.69,758.98 563.65,758.27 564.6,757.56 565.56,756.85 566.52,756.14 567.48,755.43 568.44,754.72 569.39,754.01 570.35,753.3 571.31,752.59 572.27,751.87 573.22,751.16 574.18,750.45 575.14,749.74 576.1,749.03 577.06,748.32 578.01,747.61 578.97,746.9 579.93,746.19 580.89,745.48 581.84,744.77 582.8,744.06 583.76,743.35 584.72,742.64 585.67,741.93 586.63,741.22 587.59,740.51 588.55,739.8 589.51,739.09 590.46,738.38 591.42,737.67 592.38,736.96 593.34,736.25 594.29,735.54 595.25,734.83 596.21,734.12 597.17,733.41 598.13,732.7 599.08,731.99 600.04,731.28 601,730.57 601.96,729.86 602.91,729.15 603.87,728.44 604.83,727.73 605.79,727.02 606.75,726.31 607.7,725.61 608.66,724.9 609.62,724.19 610.58,723.48 611.53,722.77 612.49,722.06 613.45,721.35 614.41,720.64 615.36,719.93 616.32,719.22 617.28,718.51 618.24,717.81 619.2,717.1 620.15,716.39 621.11,715.68 622.07,714.97 623.03,714.26 623.98,713.55 624.94,712.85 625.9,712.14 626.86,711.43 627.82,710.72 628.77,710.01 629.73,709.3 630.69,708.6 631.65,707.89 632.6,707.18 633.56,706.47 634.52,705.77 635.48,705.06 636.43,704.35 637.39,703.64 638.35,702.94 639.31,702.23 640.27,701.52 641.22,700.82 642.18,700.11 643.14,699.4 644.1,698.7 645.05,697.99 646.01,697.28 646.97,696.58 647.93,695.87 648.89,695.17 649.84,694.46 650.8,693.76 651.76,693.05 652.72,692.34 653.67,691.64 654.63,690.94 655.59,690.23 656.55,689.53 657.51,688.82 658.46,688.12 659.42,687.41 660.38,686.71 661.34,686.01 662.29,685.3 663.25,684.6 664.21,683.89 665.17,683.19 666.13,682.49 667.08,681.79 668.04,681.08 669,680.38 669.95,679.68 670.91,678.98 671.87,678.28 672.83,677.58 673.79,676.88 674.75,676.18 675.7,675.48 676.66,674.78 677.62,674.08 678.57,673.38 679.53,672.68 680.49,671.98 681.45,671.28 682.41,670.59 683.36,669.89 684.32,669.19 685.28,668.49 686.23,667.8 687.2,667.1 688.15,666.41 689.11,665.71 690.06,665.02 691.02,664.33 691.98,663.63 692.94,662.94 693.9,662.24 694.87,661.54 695.81,660.86 696.78,660.16 697.73,659.47 698.69,658.78 699.65,658.09 700.61,657.4 701.56,656.71 702.51,656.03 703.47,655.34 704.43,654.66 705.4,653.96 706.35,653.28 707.31,652.59 708.25,651.92 709.23,651.22 710.18,650.54 711.13,649.86 712.09,649.18 713.04,648.51 713.99,647.83 714.99,647.12 715.92,646.47 716.9,645.77 717.86,645.09 718.81,644.42 719.72,643.77 720.69,643.09 721.71,642.37 722.61,641.74 723.56,641.08 724.55,640.38 725.5,639.72 726.5,639.03 727.43,638.37 728.42,637.69 729.33,637.05 730.29,636.39 731.3,635.69 732.21,635.06 733.18,634.39 734.19,633.69 735.09,633.08 736.03,632.43 737.02,631.76 737.85,631.19 738.95,630.44 739.88,629.8 740.86,629.14 741.9,628.44 742.72,627.88 743.57,627.31 744.78,626.49 745.74,625.85 746.42,625.4 747.47,624.69 748.59,623.94 749.38,623.42 750.21,622.87 751.52,622.01 752.45,621.4 753.43,620.75 754.47,620.08 755.01,619.72 756.14,618.98 757.35,618.2 757.99,617.79 759.33,616.92 760.04,616.47 760.78,615.99 761.55,615.5 763.2,614.45 764.09,613.89 765.02,613.31 766,612.69 767.03,612.04 768.13,611.36 769.3,610.64 770.55,609.86 771.9,609.04 773.35,608.16 774.93,607.2 776.66,606.17 778.57,605.03 780.7,603.77 783.12,602.37 785.92,600.76 789.22,598.9 793.27,596.66 798.49,593.86 805.84,590.05 818.41,583.86" fill="#b6d7f1" stroke="#6499c9" stroke-width="1" stroke-linejoin="round"/>
<line x1="520.25" y1="790.47" x2="835.94" y2="556.07" stroke="#b9161f" stroke-width="2.7" stroke-linecap="round" stroke-dasharray="8.2 9.8" stroke-dashoffset="-0.4" clip-path="url(#clip11)"/>
<path d="M531.7 781.1 L562.5 757.6 L594 734 L604 726 L630 706.9 L640 700.5 L650 693 L665 681.7 L675 674.5 L685 666.7 L690 663 L700 656.2 L710 649.5 L711.52 648.49" fill="none" stroke="#3f93db" stroke-width="7.2" stroke-linecap="round" stroke-linejoin="round"/>
<path d="M711.52 648.49 L715 646.2 L725 640.5 L735 633 L745.6 626.3 L754.2 623.4 L764.8 618 L771.8 611.6 L779.6 606.6 L786 602.4 L793.1 597.4 L799.5 591.5" fill="none" stroke="#3f93db" stroke-width="6.4" stroke-linecap="round" stroke-linejoin="round"/>
<circle cx="806.4" cy="587.4" r="3.2" fill="#3f93db"/>
<circle cx="818.7" cy="581.7" r="3.2" fill="#3f93db"/>
<path d="M520.25 502.75 V782.55" stroke="#000" stroke-width="1.6" fill="none"/>
<path d="M512.75 781.75 H521.05" stroke="#000" stroke-width="1.6"/>
<text x="505.75" y="789.75" font-size="21.4" text-anchor="end">0</text>
<path d="M512.75 719.75 H521.05" stroke="#000" stroke-width="1.6"/>
<text x="505.75" y="727.75" font-size="21.4" text-anchor="end">2</text>
<path d="M512.75 657.75 H521.05" stroke="#000" stroke-width="1.6"/>
<text x="505.75" y="665.75" font-size="21.4" text-anchor="end">4</text>
<path d="M512.75 595.75 H521.05" stroke="#000" stroke-width="1.6"/>
<text x="505.75" y="603.75" font-size="21.4" text-anchor="end">6</text>
<path d="M512.75 533.75 H521.05" stroke="#000" stroke-width="1.6"/>
<text x="505.75" y="541.75" font-size="21.4" text-anchor="end">8</text>
<path d="M531.2 793 H825.05" stroke="#000" stroke-width="1.6" fill="none"/>
<path d="M532 792.2 V800" stroke="#000" stroke-width="1.6"/>
<text x="532" y="818.25" font-size="21.4" text-anchor="middle">0</text>
<path d="M573.75 792.2 V800" stroke="#000" stroke-width="1.6"/>
<text x="573.75" y="818.25" font-size="21.4" text-anchor="middle">1</text>
<rect x="568.17" y="815.45" width="4.93" height="3.8" fill="#fff"/>
<rect x="575.15" y="815.45" width="4.57" height="3.8" fill="#fff"/>
<path d="M615.5 792.2 V800" stroke="#000" stroke-width="1.6"/>
<text x="615.5" y="818.25" font-size="21.4" text-anchor="middle">2</text>
<path d="M657.25 792.2 V800" stroke="#000" stroke-width="1.6"/>
<text x="657.25" y="818.25" font-size="21.4" text-anchor="middle">3</text>
<path d="M699 792.2 V800" stroke="#000" stroke-width="1.6"/>
<text x="699" y="818.25" font-size="21.4" text-anchor="middle">4</text>
<path d="M740.75 792.2 V800" stroke="#000" stroke-width="1.6"/>
<text x="740.75" y="818.25" font-size="21.4" text-anchor="middle">5</text>
<path d="M782.5 792.2 V800" stroke="#000" stroke-width="1.6"/>
<text x="782.5" y="818.25" font-size="21.4" text-anchor="middle">6</text>
<path d="M824.25 792.2 V800" stroke="#000" stroke-width="1.6"/>
<text x="824.25" y="818.25" font-size="21.4" text-anchor="middle">7</text>
<text x="557.1" y="854.75" font-size="27.2">Expected</text>
<text x="682.4" y="857.85" font-size="29.8">−</text>
<text x="702.4" y="854.75" font-size="27.2">log</text>
<text x="738.6" y="859.75" font-size="19.04">10</text>
<rect x="738.79" y="857.13" width="4.51" height="3.62" fill="#fff"/>
<rect x="745.15" y="857.13" width="4.16" height="3.62" fill="#fff"/>
<text x="760.2" y="853.95" font-size="28.8">(</text>
<text x="772.2" y="854.75" font-size="27.2" font-style="italic">p</text>
<text x="789.6" y="853.95" font-size="28.8">)</text>
<g transform="translate(468.1 765.45) rotate(-90)">
<text x="0" y="0" font-size="27.2">Observed</text>
<text x="129.8" y="3.1" font-size="29.8">−</text>
<text x="149.8" y="0" font-size="27.2">log</text>
<text x="186" y="5" font-size="19.04">10</text>
<rect x="186.19" y="2.38" width="4.51" height="3.62" fill="#fff"/>
<rect x="192.55" y="2.38" width="4.16" height="3.62" fill="#fff"/>
<text x="207.6" y="-0.8" font-size="28.8">(</text>
<text x="219.6" y="0" font-size="27.2" font-style="italic">p</text>
<text x="237" y="-0.8" font-size="28.8">)</text>
</g>
<text x="681.15" y="471.2" font-size="23.7" text-anchor="middle" font-weight="bold">UC</text>
<text x="678.45" y="499.4" font-size="27.2" text-anchor="middle" font-weight="bold">without MHC</text>
<path d="M623.28 526 C623.43 525.55 623.8 523.93 624.19 523.3 C624.58 522.67 625.05 522.28 625.61 522.23 C626.17 522.18 627.02 522.36 627.56 523 C628.1 523.65 628.54 524.88 628.86 526.1 C629.18 527.32 629.24 528.87 629.5 530.3 C629.76 531.73 630.04 533.3 630.41 534.68 C630.78 536.06 631.18 537.62 631.7 538.57 C632.22 539.52 632.92 540.17 633.53 540.39 C634.14 540.61 634.82 540.26 635.34 539.87 C635.86 539.48 636.42 538.35 636.64 538.05" fill="none" stroke="#000" stroke-width="1.95" stroke-linecap="round" stroke-linejoin="round"/>
<path d="M629.25 528.9 L623.6 540.95" fill="none" stroke="#000" stroke-width="2.8" stroke-linecap="butt"/>
<rect x="644.8" y="532.55" width="13.1" height="1.9"/>
<rect x="644.8" y="537.2" width="13.1" height="1.9"/>
<text x="666.3" y="541.3" font-size="27.2">1.043</text>
<rect x="667.09" y="538.07" width="5.97" height="4.23" fill="#fff"/>
<rect x="675.62" y="538.07" width="5.56" height="4.23" fill="#fff"/>
<path d="M602.18 565.1 C602.33 564.65 602.7 563.03 603.09 562.4 C603.48 561.77 603.95 561.38 604.51 561.33 C605.07 561.28 605.92 561.46 606.46 562.1 C607 562.75 607.44 563.98 607.76 565.2 C608.08 566.42 608.14 567.97 608.4 569.4 C608.66 570.83 608.94 572.4 609.31 573.78 C609.68 575.16 610.08 576.72 610.6 577.67 C611.12 578.62 611.82 579.27 612.43 579.49 C613.04 579.71 613.72 579.36 614.24 578.97 C614.76 578.58 615.32 577.45 615.54 577.15" fill="none" stroke="#000" stroke-width="1.95" stroke-linecap="round" stroke-linejoin="round"/>
<path d="M608.15 568 L602.5 580.05" fill="none" stroke="#000" stroke-width="2.8" stroke-linecap="butt"/>
<text x="615.8" y="585.8" font-size="19.04">1000</text>
<rect x="615.99" y="583.18" width="4.51" height="3.62" fill="#fff"/>
<rect x="622.35" y="583.18" width="4.16" height="3.62" fill="#fff"/>
<rect x="665.8" y="571.85" width="13" height="1.9"/>
<rect x="665.8" y="576.5" width="13" height="1.9"/>
<text x="687" y="580.6" font-size="27.2">1.005</text>
<rect x="687.79" y="577.37" width="5.97" height="4.23" fill="#fff"/>
<rect x="696.32" y="577.37" width="5.56" height="4.23" fill="#fff"/>
<text x="434.6" y="461.2" font-size="34">d</text>
<clipPath id="clip02"><rect x="87" y="914.6" width="315.69" height="311.25"/></clipPath>
<polygon points="385.16,1039.38 372.59,1057.45 365.24,1065.23 360.02,1070.02 355.97,1073.44 352.67,1076.08 349.87,1078.22 347.45,1080.01 345.32,1081.55 343.41,1082.9 341.68,1084.1 340.1,1085.18 338.65,1086.16 337.3,1087.05 336.05,1087.88 334.88,1088.64 333.78,1089.36 332.75,1090.02 331.77,1090.65 330.84,1091.24 329.95,1091.8 328.3,1092.83 327.53,1093.31 326.79,1093.77 326.08,1094.21 324.74,1095.04 324.1,1095.42 322.89,1096.16 321.76,1096.84 321.22,1097.17 320.18,1097.79 319.2,1098.38 318.27,1098.93 316.96,1099.7 316.13,1100.19 315.34,1100.65 314.22,1101.31 313.17,1101.93 312.49,1102.32 311.53,1102.87 310.32,1103.57 309.47,1104.06 308.65,1104.53 307.61,1105.13 306.63,1105.68 305.7,1106.21 304.6,1106.84 303.77,1107.31 302.78,1107.87 301.84,1108.4 300.94,1108.9 299.93,1109.47 298.96,1110 298.05,1110.51 297.04,1111.08 296.08,1111.61 295.17,1112.11 294.18,1112.66 293.25,1113.17 292.25,1113.72 291.3,1114.24 290.31,1114.79 289.36,1115.31 288.46,1115.8 287.44,1116.36 286.47,1116.88 285.56,1117.38 284.61,1117.9 283.65,1118.42 282.67,1118.95 281.74,1119.46 280.74,1120 279.79,1120.51 278.84,1121.02 277.88,1121.53 276.93,1122.05 275.98,1122.56 275,1123.08 274.06,1123.58 273.1,1124.1 272.15,1124.61 271.18,1125.13 270.22,1125.64 269.26,1126.15 268.31,1126.66 267.36,1127.16 266.4,1127.67 265.44,1128.18 264.48,1128.69 263.53,1129.2 262.56,1129.71 261.62,1130.21 260.65,1130.73 259.69,1131.23 258.73,1131.74 257.77,1132.25 256.81,1132.75 255.86,1133.25 254.9,1133.76 253.95,1134.26 252.98,1134.77 252.03,1135.27 251.07,1135.78 250.11,1136.28 249.16,1136.78 248.2,1137.28 247.24,1137.79 246.28,1138.29 245.32,1138.79 244.37,1139.29 243.41,1139.79 242.45,1140.29 241.5,1140.79 240.54,1141.3 239.58,1141.8 238.62,1142.3 237.66,1142.8 236.7,1143.3 235.75,1143.8 234.79,1144.3 233.83,1144.8 232.88,1145.3 231.92,1145.8 230.96,1146.3 230,1146.8 229.04,1147.29 228.09,1147.79 227.13,1148.29 226.17,1148.79 225.21,1149.29 224.26,1149.79 223.3,1150.28 222.34,1150.78 221.38,1151.28 220.42,1151.78 219.47,1152.27 218.51,1152.77 217.55,1153.27 216.59,1153.77 215.64,1154.26 214.68,1154.76 213.72,1155.26 212.76,1155.75 211.8,1156.25 210.85,1156.75 209.89,1157.24 208.93,1157.74 207.97,1158.24 207.02,1158.73 206.06,1159.23 205.1,1159.73 204.14,1160.22 203.18,1160.72 202.23,1161.21 201.27,1161.71 200.31,1162.2 199.35,1162.7 198.4,1163.2 197.44,1163.69 196.48,1164.19 195.52,1164.68 194.57,1165.18 193.61,1165.67 192.65,1166.17 191.69,1166.66 190.73,1167.16 189.78,1167.65 188.82,1168.15 187.86,1168.64 186.9,1169.14 185.95,1169.63 184.99,1170.13 184.03,1170.62 183.07,1171.12 182.11,1171.61 181.16,1172.11 180.2,1172.6 179.24,1173.1 178.28,1173.59 177.33,1174.09 176.37,1174.58 175.41,1175.08 174.45,1175.57 173.5,1176.06 172.54,1176.56 171.58,1177.05 170.62,1177.55 169.66,1178.04 168.71,1178.54 167.75,1179.03 166.79,1179.52 165.83,1180.02 164.88,1180.51 163.92,1181.01 162.96,1181.5 162,1181.99 161.04,1182.49 160.09,1182.98 159.13,1183.48 158.17,1183.97 157.21,1184.46 156.26,1184.96 155.3,1185.45 154.34,1185.95 153.38,1186.44 152.42,1186.93 151.47,1187.43 150.51,1187.92 149.55,1188.42 148.59,1188.91 147.64,1189.4 146.68,1189.9 145.72,1190.39 144.76,1190.89 143.81,1191.38 142.85,1191.87 141.89,1192.37 140.93,1192.86 139.97,1193.35 139.02,1193.85 138.06,1194.34 137.1,1194.83 136.14,1195.33 135.19,1195.82 134.23,1196.32 133.27,1196.81 132.31,1197.3 131.35,1197.8 130.4,1198.29 129.44,1198.78 128.48,1199.28 127.52,1199.77 126.57,1200.26 125.61,1200.76 124.65,1201.25 123.69,1201.75 122.74,1202.24 121.78,1202.73 120.82,1203.23 119.86,1203.72 118.9,1204.21 117.95,1204.71 116.99,1205.2 116.03,1205.69 115.07,1206.19 114.12,1206.68 113.16,1207.17 112.2,1207.67 111.24,1208.16 110.28,1208.65 109.33,1209.15 108.37,1209.64 107.41,1210.14 106.45,1210.63 105.5,1211.12 104.54,1211.62 103.58,1212.11 102.62,1212.6 101.66,1213.1 100.71,1213.59 99.75,1214.08 98.79,1214.58 98.79,1214.58 99.75,1214.09 100.71,1213.59 101.66,1213.1 102.62,1212.61 103.58,1212.12 104.54,1211.62 105.5,1211.13 106.45,1210.64 107.41,1210.14 108.37,1209.65 109.33,1209.16 110.28,1208.67 111.24,1208.17 112.2,1207.68 113.16,1207.19 114.12,1206.69 115.07,1206.2 116.03,1205.71 116.99,1205.22 117.95,1204.72 118.9,1204.23 119.86,1203.74 120.82,1203.24 121.78,1202.75 122.74,1202.26 123.69,1201.76 124.65,1201.27 125.61,1200.78 126.57,1200.29 127.52,1199.79 128.48,1199.3 129.44,1198.81 130.4,1198.32 131.35,1197.82 132.31,1197.33 133.27,1196.84 134.23,1196.34 135.19,1195.85 136.14,1195.36 137.1,1194.87 138.06,1194.37 139.02,1193.88 139.97,1193.39 140.93,1192.89 141.89,1192.4 142.85,1191.91 143.81,1191.42 144.76,1190.92 145.72,1190.43 146.68,1189.94 147.64,1189.45 148.59,1188.95 149.55,1188.46 150.51,1187.97 151.47,1187.48 152.42,1186.98 153.38,1186.49 154.34,1186 155.3,1185.51 156.26,1185.01 157.21,1184.52 158.17,1184.03 159.13,1183.54 160.09,1183.04 161.04,1182.55 162,1182.06 162.96,1181.57 163.92,1181.07 164.88,1180.58 165.83,1180.09 166.79,1179.6 167.75,1179.11 168.71,1178.61 169.66,1178.12 170.62,1177.63 171.58,1177.14 172.54,1176.64 173.5,1176.15 174.45,1175.66 175.41,1175.17 176.37,1174.68 177.33,1174.19 178.28,1173.69 179.24,1173.2 180.2,1172.71 181.16,1172.22 182.11,1171.73 183.07,1171.23 184.03,1170.74 184.99,1170.25 185.95,1169.76 186.9,1169.27 187.86,1168.78 188.82,1168.29 189.78,1167.79 190.73,1167.3 191.69,1166.81 192.65,1166.32 193.61,1165.83 194.57,1165.34 195.52,1164.85 196.48,1164.36 197.44,1163.86 198.4,1163.37 199.35,1162.88 200.31,1162.39 201.27,1161.9 202.23,1161.41 203.18,1160.92 204.14,1160.43 205.1,1159.94 206.06,1159.45 207.02,1158.96 207.97,1158.47 208.93,1157.98 209.89,1157.49 210.85,1157 211.8,1156.51 212.76,1156.02 213.72,1155.53 214.68,1155.04 215.64,1154.55 216.59,1154.06 217.55,1153.57 218.51,1153.08 219.47,1152.59 220.42,1152.1 221.38,1151.62 222.34,1151.13 223.3,1150.64 224.26,1150.15 225.21,1149.66 226.17,1149.17 227.13,1148.68 228.09,1148.2 229.04,1147.71 230,1147.22 230.96,1146.73 231.92,1146.25 232.88,1145.76 233.83,1145.27 234.79,1144.78 235.75,1144.3 236.7,1143.81 237.66,1143.33 238.62,1142.84 239.58,1142.35 240.54,1141.87 241.5,1141.38 242.45,1140.89 243.41,1140.41 244.37,1139.93 245.32,1139.44 246.28,1138.96 247.24,1138.47 248.2,1137.99 249.16,1137.5 250.11,1137.02 251.07,1136.54 252.03,1136.05 252.98,1135.57 253.95,1135.08 254.9,1134.61 255.86,1134.12 256.81,1133.64 257.77,1133.16 258.73,1132.68 259.69,1132.2 260.65,1131.72 261.62,1131.23 262.56,1130.76 263.53,1130.27 264.48,1129.8 265.44,1129.32 266.4,1128.84 267.36,1128.36 268.31,1127.88 269.26,1127.41 270.22,1126.93 271.18,1126.45 272.15,1125.97 273.1,1125.5 274.06,1125.02 275,1124.56 275.98,1124.07 276.93,1123.6 277.88,1123.13 278.84,1122.66 279.79,1122.19 280.74,1121.72 281.74,1121.23 282.67,1120.77 283.65,1120.29 284.61,1119.82 285.56,1119.36 286.47,1118.91 287.44,1118.43 288.46,1117.94 289.36,1117.5 290.31,1117.04 291.3,1116.56 292.25,1116.1 293.25,1115.61 294.18,1115.16 295.17,1114.68 296.08,1114.25 297.04,1113.79 298.05,1113.3 298.96,1112.86 299.93,1112.4 300.94,1111.91 301.84,1111.49 302.78,1111.04 303.77,1110.57 304.6,1110.18 305.7,1109.66 306.63,1109.22 307.61,1108.76 308.65,1108.27 309.47,1107.89 310.32,1107.49 311.53,1106.92 312.49,1106.47 313.17,1106.16 314.22,1105.67 315.34,1105.15 316.13,1104.79 316.96,1104.41 318.27,1103.81 319.2,1103.39 320.18,1102.94 321.22,1102.47 321.76,1102.23 322.89,1101.71 324.1,1101.17 324.74,1100.89 326.08,1100.29 326.79,1099.97 327.53,1099.64 328.3,1099.3 329.95,1098.57 330.84,1098.18 331.77,1097.78 332.75,1097.35 333.78,1096.9 334.88,1096.43 336.05,1095.92 337.3,1095.39 338.65,1094.82 340.1,1094.21 341.68,1093.54 343.41,1092.82 345.32,1092.04 347.45,1091.17 349.87,1090.19 352.67,1089.08 355.97,1087.78 360.02,1086.23 365.24,1084.29 372.59,1081.65 385.16,1077.35" fill="#b6d7f1" stroke="#6499c9" stroke-width="1" stroke-linejoin="round"/>
<line x1="87" y1="1220.65" x2="402.69" y2="1058.08" stroke="#b9161f" stroke-width="2.7" stroke-linecap="round" stroke-dasharray="8.2 9.8" stroke-dashoffset="-0.4" clip-path="url(#clip02)"/>
<path d="M99.6 1214.2 L132.5 1197.8 L174.9 1173.4 L196.1 1161.7 L217.4 1147.9 L228 1140.5 L238.6 1130.9 L249.2 1118.2 L257.7 1107.6 L261.9 1097 L264.5 1081.5 L268.3 1075.8 L273 1072.1 L274.9 1064.5 L277.7 1058.9 L278.27 1058.52" fill="none" stroke="#3f93db" stroke-width="7.2" stroke-linecap="round" stroke-linejoin="round"/>
<path d="M278.27 1058.52 L283.4 1055.1 L288.1 1049.4 L290 1041.9 L294.7 1036.2 L300.4 1030.6 L306 1026.8 L311.7 1026.8 L315.5 1023 L316.4 1017.4" fill="none" stroke="#3f93db" stroke-width="6.4" stroke-linecap="round" stroke-linejoin="round"/>
<path d="M319.7 996.6 L320.3 1002.4" fill="none" stroke="#3f93db" stroke-width="6.4" stroke-linecap="round" stroke-linejoin="round"/>
<path d="M319 987.8 L324 983.6 L329.6 981.5 L336.7 980.8 L343.8 980.1 L350 979.2 L358.9 977.7 L366 974.5" fill="none" stroke="#3f93db" stroke-width="6.4" stroke-linecap="round" stroke-linejoin="round"/>
<circle cx="373.4" cy="959.8" r="3.2" fill="#3f93db"/>
<circle cx="385.7" cy="955.1" r="3.2" fill="#3f93db"/>
<path d="M87 935.6 V1215.4" stroke="#000" stroke-width="1.6" fill="none"/>
<path d="M79.5 1214.6 H87.8" stroke="#000" stroke-width="1.6"/>
<text x="72.5" y="1222.6" font-size="21.4" text-anchor="end">0</text>
<path d="M79.5 1171.6 H87.8" stroke="#000" stroke-width="1.6"/>
<text x="72.5" y="1179.6" font-size="21.4" text-anchor="end">2</text>
<path d="M79.5 1128.6 H87.8" stroke="#000" stroke-width="1.6"/>
<text x="72.5" y="1136.6" font-size="21.4" text-anchor="end">4</text>
<path d="M79.5 1085.6 H87.8" stroke="#000" stroke-width="1.6"/>
<text x="72.5" y="1093.6" font-size="21.4" text-anchor="end">6</text>
<path d="M79.5 1042.6 H87.8" stroke="#000" stroke-width="1.6"/>
<text x="72.5" y="1050.6" font-size="21.4" text-anchor="end">8</text>
<path d="M79.5 999.6 H87.8" stroke="#000" stroke-width="1.6"/>
<text x="72.5" y="1007.6" font-size="21.4" text-anchor="end">10</text>
<rect x="49.06" y="1004.8" width="4.93" height="3.8" fill="#fff"/>
<rect x="56.05" y="1004.8" width="4.57" height="3.8" fill="#fff"/>
<path d="M79.5 956.6 H87.8" stroke="#000" stroke-width="1.6"/>
<text x="72.5" y="964.6" font-size="21.4" text-anchor="end">12</text>
<rect x="49.06" y="961.8" width="4.93" height="3.8" fill="#fff"/>
<rect x="56.05" y="961.8" width="4.57" height="3.8" fill="#fff"/>
<path d="M97.95 1225.85 H391.8" stroke="#000" stroke-width="1.6" fill="none"/>
<path d="M98.75 1225.05 V1232.85" stroke="#000" stroke-width="1.6"/>
<text x="98.75" y="1251.1" font-size="21.4" text-anchor="middle">0</text>
<path d="M140.5 1225.05 V1232.85" stroke="#000" stroke-width="1.6"/>
<text x="140.5" y="1251.1" font-size="21.4" text-anchor="middle">1</text>
<rect x="134.92" y="1248.3" width="4.93" height="3.8" fill="#fff"/>
<rect x="141.9" y="1248.3" width="4.57" height="3.8" fill="#fff"/>
<path d="M182.25 1225.05 V1232.85" stroke="#000" stroke-width="1.6"/>
<text x="182.25" y="1251.1" font-size="21.4" text-anchor="middle">2</text>
<path d="M224 1225.05 V1232.85" stroke="#000" stroke-width="1.6"/>
<text x="224" y="1251.1" font-size="21.4" text-anchor="middle">3</text>
<path d="M265.75 1225.05 V1232.85" stroke="#000" stroke-width="1.6"/>
<text x="265.75" y="1251.1" font-size="21.4" text-anchor="middle">4</text>
<path d="M307.5 1225.05 V1232.85" stroke="#000" stroke-width="1.6"/>
<text x="307.5" y="1251.1" font-size="21.4" text-anchor="middle">5</text>
<path d="M349.25 1225.05 V1232.85" stroke="#000" stroke-width="1.6"/>
<text x="349.25" y="1251.1" font-size="21.4" text-anchor="middle">6</text>
<path d="M391 1225.05 V1232.85" stroke="#000" stroke-width="1.6"/>
<text x="391" y="1251.1" font-size="21.4" text-anchor="middle">7</text>
<text x="124.1" y="1287.6" font-size="27.2">Expected</text>
<text x="249.4" y="1290.7" font-size="29.8">−</text>
<text x="269.4" y="1287.6" font-size="27.2">log</text>
<text x="305.6" y="1292.6" font-size="19.04">10</text>
<rect x="305.79" y="1289.98" width="4.51" height="3.62" fill="#fff"/>
<rect x="312.15" y="1289.98" width="4.16" height="3.62" fill="#fff"/>
<text x="327.2" y="1286.8" font-size="28.8">(</text>
<text x="339.2" y="1287.6" font-size="27.2" font-style="italic">p</text>
<text x="356.6" y="1286.8" font-size="28.8">)</text>
<g transform="translate(35.1 1198.65) rotate(-90)">
<text x="0" y="0" font-size="27.2">Observed</text>
<text x="129.8" y="3.1" font-size="29.8">−</text>
<text x="149.8" y="0" font-size="27.2">log</text>
<text x="186" y="5" font-size="19.04">10</text>
<rect x="186.19" y="2.38" width="4.51" height="3.62" fill="#fff"/>
<rect x="192.55" y="2.38" width="4.16" height="3.62" fill="#fff"/>
<text x="207.6" y="-0.8" font-size="28.8">(</text>
<text x="219.6" y="0" font-size="27.2" font-style="italic">p</text>
<text x="237" y="-0.8" font-size="28.8">)</text>
</g>
<text x="248.15" y="903.4" font-size="23.7" text-anchor="middle" font-weight="bold">IBD</text>
<text x="245.45" y="931.6" font-size="27.2" text-anchor="middle" font-weight="bold">with MHC</text>
<path d="M190.28 958.2 C190.43 957.75 190.8 956.13 191.19 955.5 C191.58 954.87 192.05 954.48 192.61 954.43 C193.17 954.38 194.02 954.56 194.56 955.2 C195.1 955.85 195.54 957.08 195.86 958.3 C196.18 959.52 196.24 961.07 196.5 962.5 C196.76 963.93 197.04 965.5 197.41 966.88 C197.78 968.26 198.18 969.82 198.7 970.77 C199.22 971.72 199.92 972.37 200.53 972.59 C201.14 972.81 201.82 972.46 202.34 972.07 C202.86 971.68 203.42 970.55 203.64 970.25" fill="none" stroke="#000" stroke-width="1.95" stroke-linecap="round" stroke-linejoin="round"/>
<path d="M196.25 961.1 L190.6 973.15" fill="none" stroke="#000" stroke-width="2.8" stroke-linecap="butt"/>
<rect x="211.8" y="964.75" width="13.1" height="1.9"/>
<rect x="211.8" y="969.4" width="13.1" height="1.9"/>
<text x="233.3" y="973.5" font-size="27.2">1.057</text>
<rect x="234.09" y="970.27" width="5.97" height="4.23" fill="#fff"/>
<rect x="242.62" y="970.27" width="5.56" height="4.23" fill="#fff"/>
<path d="M169.18 997.3 C169.33 996.85 169.7 995.23 170.09 994.6 C170.48 993.97 170.95 993.58 171.51 993.53 C172.07 993.48 172.92 993.65 173.46 994.3 C174 994.94 174.44 996.18 174.76 997.4 C175.08 998.62 175.14 1000.17 175.4 1001.6 C175.66 1003.03 175.94 1004.6 176.31 1005.98 C176.68 1007.36 177.08 1008.92 177.6 1009.87 C178.12 1010.82 178.82 1011.47 179.43 1011.69 C180.04 1011.91 180.72 1011.56 181.24 1011.17 C181.76 1010.78 182.32 1009.65 182.54 1009.35" fill="none" stroke="#000" stroke-width="1.95" stroke-linecap="round" stroke-linejoin="round"/>
<path d="M175.15 1000.2 L169.5 1012.25" fill="none" stroke="#000" stroke-width="2.8" stroke-linecap="butt"/>
<text x="182.8" y="1018" font-size="19.04">1000</text>
<rect x="182.99" y="1015.38" width="4.51" height="3.62" fill="#fff"/>
<rect x="189.35" y="1015.38" width="4.16" height="3.62" fill="#fff"/>
<rect x="232.8" y="1004.05" width="13" height="1.9"/>
<rect x="232.8" y="1008.7" width="13" height="1.9"/>
<text x="254" y="1012.8" font-size="27.2">1.004</text>
<rect x="254.79" y="1009.57" width="5.97" height="4.23" fill="#fff"/>
<rect x="263.32" y="1009.57" width="5.56" height="4.23" fill="#fff"/>
<text x="2.5" y="890.6" font-size="34">e</text>
<clipPath id="clip12"><rect x="520.25" y="914.8" width="315.69" height="311.25"/></clipPath>
<polygon points="818.41,962.15 805.84,988.21 798.49,999.43 793.27,1006.34 789.22,1011.27 785.92,1015.07 783.12,1018.15 780.7,1020.74 778.57,1022.96 776.66,1024.91 774.93,1026.64 773.35,1028.19 771.9,1029.6 770.55,1030.89 769.3,1032.09 768.13,1033.19 767.03,1034.22 766,1035.18 765.02,1036.08 764.09,1036.93 763.2,1037.74 761.55,1039.23 760.78,1039.92 760.04,1040.58 759.33,1041.22 757.99,1042.4 757.35,1042.96 756.14,1044.02 755.01,1045.01 754.47,1045.48 753.43,1046.38 752.45,1047.22 751.52,1048.02 750.21,1049.14 749.38,1049.84 748.59,1050.5 747.47,1051.45 746.42,1052.34 745.74,1052.9 744.78,1053.71 743.57,1054.71 742.72,1055.42 741.9,1056.1 740.86,1056.95 739.88,1057.76 738.95,1058.52 737.85,1059.42 737.02,1060.1 736.03,1060.91 735.09,1061.67 734.19,1062.39 733.18,1063.21 732.21,1063.99 731.3,1064.72 730.29,1065.53 729.33,1066.3 728.42,1067.03 727.43,1067.81 726.5,1068.56 725.5,1069.35 724.55,1070.1 723.56,1070.89 722.61,1071.64 721.71,1072.34 720.69,1073.15 719.72,1073.91 718.81,1074.63 717.86,1075.37 716.9,1076.12 715.92,1076.89 714.99,1077.62 713.99,1078.39 713.04,1079.13 712.09,1079.87 711.13,1080.61 710.18,1081.35 709.23,1082.08 708.25,1082.85 707.31,1083.57 706.35,1084.31 705.4,1085.05 704.43,1085.79 703.47,1086.53 702.51,1087.27 701.56,1088 700.61,1088.73 699.65,1089.47 698.69,1090.2 697.73,1090.93 696.78,1091.66 695.81,1092.41 694.87,1093.12 693.9,1093.86 692.94,1094.59 691.98,1095.33 691.02,1096.06 690.06,1096.78 689.11,1097.51 688.15,1098.24 687.2,1098.96 686.23,1099.7 685.28,1100.42 684.32,1101.15 683.36,1101.87 682.41,1102.59 681.45,1103.32 680.49,1104.05 679.53,1104.77 678.57,1105.49 677.62,1106.22 676.66,1106.94 675.7,1107.66 674.75,1108.38 673.79,1109.11 672.83,1109.83 671.87,1110.55 670.91,1111.27 669.95,1111.99 669,1112.72 668.04,1113.43 667.08,1114.16 666.13,1114.87 665.17,1115.59 664.21,1116.31 663.25,1117.03 662.29,1117.75 661.34,1118.47 660.38,1119.19 659.42,1119.91 658.46,1120.63 657.51,1121.35 656.55,1122.07 655.59,1122.78 654.63,1123.5 653.67,1124.22 652.72,1124.94 651.76,1125.65 650.8,1126.37 649.84,1127.09 648.89,1127.8 647.93,1128.52 646.97,1129.24 646.01,1129.95 645.05,1130.67 644.1,1131.38 643.14,1132.1 642.18,1132.82 641.22,1133.53 640.27,1134.25 639.31,1134.96 638.35,1135.68 637.39,1136.39 636.43,1137.11 635.48,1137.82 634.52,1138.54 633.56,1139.25 632.6,1139.97 631.65,1140.68 630.69,1141.4 629.73,1142.11 628.77,1142.83 627.82,1143.54 626.86,1144.25 625.9,1144.97 624.94,1145.68 623.98,1146.4 623.03,1147.11 622.07,1147.82 621.11,1148.54 620.15,1149.25 619.2,1149.96 618.24,1150.68 617.28,1151.39 616.32,1152.11 615.36,1152.82 614.41,1153.53 613.45,1154.25 612.49,1154.96 611.53,1155.67 610.58,1156.38 609.62,1157.1 608.66,1157.81 607.7,1158.52 606.75,1159.24 605.79,1159.95 604.83,1160.66 603.87,1161.37 602.91,1162.09 601.96,1162.8 601,1163.51 600.04,1164.23 599.08,1164.94 598.13,1165.65 597.17,1166.36 596.21,1167.08 595.25,1167.79 594.29,1168.5 593.34,1169.21 592.38,1169.92 591.42,1170.64 590.46,1171.35 589.51,1172.06 588.55,1172.77 587.59,1173.49 586.63,1174.2 585.67,1174.91 584.72,1175.62 583.76,1176.33 582.8,1177.05 581.84,1177.76 580.89,1178.47 579.93,1179.18 578.97,1179.89 578.01,1180.61 577.06,1181.32 576.1,1182.03 575.14,1182.74 574.18,1183.45 573.22,1184.17 572.27,1184.88 571.31,1185.59 570.35,1186.3 569.39,1187.01 568.44,1187.72 567.48,1188.44 566.52,1189.15 565.56,1189.86 564.6,1190.57 563.65,1191.28 562.69,1192 561.73,1192.71 560.77,1193.42 559.82,1194.13 558.86,1194.84 557.9,1195.55 556.94,1196.27 555.99,1196.98 555.03,1197.69 554.07,1198.4 553.11,1199.11 552.15,1199.82 551.2,1200.54 550.24,1201.25 549.28,1201.96 548.32,1202.67 547.37,1203.38 546.41,1204.09 545.45,1204.8 544.49,1205.52 543.53,1206.23 542.58,1206.94 541.62,1207.65 540.66,1208.36 539.7,1209.07 538.75,1209.79 537.79,1210.5 536.83,1211.21 535.87,1211.92 534.91,1212.63 533.96,1213.34 533,1214.06 532.04,1214.77 532.04,1214.77 533,1214.06 533.96,1213.35 534.91,1212.64 535.87,1211.93 536.83,1211.22 537.79,1210.51 538.75,1209.8 539.7,1209.09 540.66,1208.38 541.62,1207.66 542.58,1206.95 543.53,1206.24 544.49,1205.53 545.45,1204.82 546.41,1204.11 547.37,1203.4 548.32,1202.69 549.28,1201.98 550.24,1201.27 551.2,1200.56 552.15,1199.85 553.11,1199.14 554.07,1198.43 555.03,1197.71 555.99,1197 556.94,1196.29 557.9,1195.58 558.86,1194.87 559.82,1194.16 560.77,1193.45 561.73,1192.74 562.69,1192.03 563.65,1191.32 564.6,1190.61 565.56,1189.9 566.52,1189.19 567.48,1188.48 568.44,1187.77 569.39,1187.06 570.35,1186.35 571.31,1185.64 572.27,1184.92 573.22,1184.21 574.18,1183.5 575.14,1182.79 576.1,1182.08 577.06,1181.37 578.01,1180.66 578.97,1179.95 579.93,1179.24 580.89,1178.53 581.84,1177.82 582.8,1177.11 583.76,1176.4 584.72,1175.69 585.67,1174.98 586.63,1174.27 587.59,1173.56 588.55,1172.85 589.51,1172.14 590.46,1171.43 591.42,1170.72 592.38,1170.01 593.34,1169.3 594.29,1168.59 595.25,1167.88 596.21,1167.17 597.17,1166.46 598.13,1165.75 599.08,1165.04 600.04,1164.33 601,1163.62 601.96,1162.91 602.91,1162.2 603.87,1161.49 604.83,1160.78 605.79,1160.07 606.75,1159.36 607.7,1158.66 608.66,1157.95 609.62,1157.24 610.58,1156.53 611.53,1155.82 612.49,1155.11 613.45,1154.4 614.41,1153.69 615.36,1152.98 616.32,1152.27 617.28,1151.56 618.24,1150.86 619.2,1150.15 620.15,1149.44 621.11,1148.73 622.07,1148.02 623.03,1147.31 623.98,1146.6 624.94,1145.9 625.9,1145.19 626.86,1144.48 627.82,1143.77 628.77,1143.06 629.73,1142.35 630.69,1141.65 631.65,1140.94 632.6,1140.23 633.56,1139.52 634.52,1138.82 635.48,1138.11 636.43,1137.4 637.39,1136.69 638.35,1135.99 639.31,1135.28 640.27,1134.57 641.22,1133.87 642.18,1133.16 643.14,1132.45 644.1,1131.75 645.05,1131.04 646.01,1130.33 646.97,1129.63 647.93,1128.92 648.89,1128.22 649.84,1127.51 650.8,1126.81 651.76,1126.1 652.72,1125.39 653.67,1124.69 654.63,1123.99 655.59,1123.28 656.55,1122.58 657.51,1121.87 658.46,1121.17 659.42,1120.46 660.38,1119.76 661.34,1119.06 662.29,1118.35 663.25,1117.65 664.21,1116.94 665.17,1116.24 666.13,1115.54 667.08,1114.84 668.04,1114.13 669,1113.43 669.95,1112.73 670.91,1112.03 671.87,1111.33 672.83,1110.63 673.79,1109.93 674.75,1109.23 675.7,1108.53 676.66,1107.83 677.62,1107.13 678.57,1106.43 679.53,1105.73 680.49,1105.03 681.45,1104.33 682.41,1103.64 683.36,1102.94 684.32,1102.24 685.28,1101.54 686.23,1100.85 687.2,1100.15 688.15,1099.46 689.11,1098.76 690.06,1098.07 691.02,1097.38 691.98,1096.68 692.94,1095.99 693.9,1095.29 694.87,1094.59 695.81,1093.91 696.78,1093.21 697.73,1092.52 698.69,1091.83 699.65,1091.14 700.61,1090.45 701.56,1089.76 702.51,1089.08 703.47,1088.39 704.43,1087.71 705.4,1087.01 706.35,1086.33 707.31,1085.64 708.25,1084.97 709.23,1084.27 710.18,1083.59 711.13,1082.91 712.09,1082.23 713.04,1081.56 713.99,1080.88 714.99,1080.17 715.92,1079.52 716.9,1078.82 717.86,1078.14 718.81,1077.47 719.72,1076.82 720.69,1076.14 721.71,1075.42 722.61,1074.79 723.56,1074.13 724.55,1073.43 725.5,1072.77 726.5,1072.08 727.43,1071.42 728.42,1070.74 729.33,1070.1 730.29,1069.44 731.3,1068.74 732.21,1068.11 733.18,1067.44 734.19,1066.74 735.09,1066.13 736.03,1065.48 737.02,1064.81 737.85,1064.24 738.95,1063.49 739.88,1062.85 740.86,1062.19 741.9,1061.49 742.72,1060.93 743.57,1060.36 744.78,1059.54 745.74,1058.9 746.42,1058.45 747.47,1057.74 748.59,1056.99 749.38,1056.47 750.21,1055.92 751.52,1055.06 752.45,1054.45 753.43,1053.8 754.47,1053.13 755.01,1052.77 756.14,1052.03 757.35,1051.25 757.99,1050.84 759.33,1049.97 760.04,1049.52 760.78,1049.04 761.55,1048.55 763.2,1047.5 764.09,1046.94 765.02,1046.36 766,1045.74 767.03,1045.09 768.13,1044.41 769.3,1043.69 770.55,1042.91 771.9,1042.09 773.35,1041.21 774.93,1040.25 776.66,1039.22 778.57,1038.08 780.7,1036.82 783.12,1035.42 785.92,1033.81 789.22,1031.95 793.27,1029.71 798.49,1026.91 805.84,1023.1 818.41,1016.91" fill="#b6d7f1" stroke="#6499c9" stroke-width="1" stroke-linejoin="round"/>
<line x1="520.25" y1="1223.52" x2="835.94" y2="989.12" stroke="#b9161f" stroke-width="2.7" stroke-linecap="round" stroke-dasharray="8.2 9.8" stroke-dashoffset="-0.4" clip-path="url(#clip12)"/>
<path d="M531.7 1215 L562.5 1191.8 L595 1166.2 L605 1159.1 L615 1151.7 L636.7 1133.8 L650 1124.3 L660 1118.1 L670 1111.4 L685 1098 L695 1090.4 L705 1081.5 L708.3 1075.5 L711.52 1071.85" fill="none" stroke="#3f93db" stroke-width="7.2" stroke-linecap="round" stroke-linejoin="round"/>
<path d="M711.52 1071.85 L715.8 1067 L723.4 1059.4 L730.9 1051.9 L736.6 1048.1 L740.4 1039.6 L746 1034 L750.8 1029.2 L752.6 1024.5 L759.2 1018.9 L766.8 1015.1 L774.3 1012.3 L781.9 1009.4 L789.4 1007.5 L797 1005.7 L798.9 1004.7" fill="none" stroke="#3f93db" stroke-width="6.4" stroke-linecap="round" stroke-linejoin="round"/>
<circle cx="806" cy="1005.7" r="3.2" fill="#3f93db"/>
<circle cx="818.7" cy="1002.8" r="3.2" fill="#3f93db"/>
<path d="M520.25 935.8 V1215.6" stroke="#000" stroke-width="1.6" fill="none"/>
<path d="M512.75 1214.8 H521.05" stroke="#000" stroke-width="1.6"/>
<text x="505.75" y="1222.8" font-size="21.4" text-anchor="end">0</text>
<path d="M512.75 1152.8 H521.05" stroke="#000" stroke-width="1.6"/>
<text x="505.75" y="1160.8" font-size="21.4" text-anchor="end">2</text>
<path d="M512.75 1090.8 H521.05" stroke="#000" stroke-width="1.6"/>
<text x="505.75" y="1098.8" font-size="21.4" text-anchor="end">4</text>
<path d="M512.75 1028.8 H521.05" stroke="#000" stroke-width="1.6"/>
<text x="505.75" y="1036.8" font-size="21.4" text-anchor="end">6</text>
<path d="M512.75 966.8 H521.05" stroke="#000" stroke-width="1.6"/>
<text x="505.75" y="974.8" font-size="21.4" text-anchor="end">8</text>
<path d="M531.2 1226.05 H825.05" stroke="#000" stroke-width="1.6" fill="none"/>
<path d="M532 1225.25 V1233.05" stroke="#000" stroke-width="1.6"/>
<text x="532" y="1251.3" font-size="21.4" text-anchor="middle">0</text>
<path d="M573.75 1225.25 V1233.05" stroke="#000" stroke-width="1.6"/>
<text x="573.75" y="1251.3" font-size="21.4" text-anchor="middle">1</text>
<rect x="568.17" y="1248.5" width="4.93" height="3.8" fill="#fff"/>
<rect x="575.15" y="1248.5" width="4.57" height="3.8" fill="#fff"/>
<path d="M615.5 1225.25 V1233.05" stroke="#000" stroke-width="1.6"/>
<text x="615.5" y="1251.3" font-size="21.4" text-anchor="middle">2</text>
<path d="M657.25 1225.25 V1233.05" stroke="#000" stroke-width="1.6"/>
<text x="657.25" y="1251.3" font-size="21.4" text-anchor="middle">3</text>
<path d="M699 1225.25 V1233.05" stroke="#000" stroke-width="1.6"/>
<text x="699" y="1251.3" font-size="21.4" text-anchor="middle">4</text>
<path d="M740.75 1225.25 V1233.05" stroke="#000" stroke-width="1.6"/>
<text x="740.75" y="1251.3" font-size="21.4" text-anchor="middle">5</text>
<path d="M782.5 1225.25 V1233.05" stroke="#000" stroke-width="1.6"/>
<text x="782.5" y="1251.3" font-size="21.4" text-anchor="middle">6</text>
<path d="M824.25 1225.25 V1233.05" stroke="#000" stroke-width="1.6"/>
<text x="824.25" y="1251.3" font-size="21.4" text-anchor="middle">7</text>
<text x="557.1" y="1287.8" font-size="27.2">Expected</text>
<text x="682.4" y="1290.9" font-size="29.8">−</text>
<text x="702.4" y="1287.8" font-size="27.2">log</text>
<text x="738.6" y="1292.8" font-size="19.04">10</text>
<rect x="738.79" y="1290.18" width="4.51" height="3.62" fill="#fff"/>
<rect x="745.15" y="1290.18" width="4.16" height="3.62" fill="#fff"/>
<text x="760.2" y="1287" font-size="28.8">(</text>
<text x="772.2" y="1287.8" font-size="27.2" font-style="italic">p</text>
<text x="789.6" y="1287" font-size="28.8">)</text>
<g transform="translate(468.1 1198.65) rotate(-90)">
<text x="0" y="0" font-size="27.2">Observed</text>
<text x="129.8" y="3.1" font-size="29.8">−</text>
<text x="149.8" y="0" font-size="27.2">log</text>
<text x="186" y="5" font-size="19.04">10</text>
<rect x="186.19" y="2.38" width="4.51" height="3.62" fill="#fff"/>
<rect x="192.55" y="2.38" width="4.16" height="3.62" fill="#fff"/>
<text x="207.6" y="-0.8" font-size="28.8">(</text>
<text x="219.6" y="0" font-size="27.2" font-style="italic">p</text>
<text x="237" y="-0.8" font-size="28.8">)</text>
</g>
<text x="681.15" y="904.4" font-size="23.7" text-anchor="middle" font-weight="bold">IBD</text>
<text x="678.45" y="932.6" font-size="27.2" text-anchor="middle" font-weight="bold">without MHC</text>
<path d="M623.28 959.2 C623.43 958.75 623.8 957.13 624.19 956.5 C624.58 955.87 625.05 955.48 625.61 955.43 C626.17 955.38 627.02 955.56 627.56 956.2 C628.1 956.85 628.54 958.08 628.86 959.3 C629.18 960.52 629.24 962.07 629.5 963.5 C629.76 964.93 630.04 966.5 630.41 967.88 C630.78 969.26 631.18 970.82 631.7 971.77 C632.22 972.72 632.92 973.37 633.53 973.59 C634.14 973.81 634.82 973.46 635.34 973.07 C635.86 972.68 636.42 971.55 636.64 971.25" fill="none" stroke="#000" stroke-width="1.95" stroke-linecap="round" stroke-linejoin="round"/>
<path d="M629.25 962.1 L623.6 974.15" fill="none" stroke="#000" stroke-width="2.8" stroke-linecap="butt"/>
<rect x="644.8" y="965.75" width="13.1" height="1.9"/>
<rect x="644.8" y="970.4" width="13.1" height="1.9"/>
<text x="666.3" y="974.5" font-size="27.2">1.048</text>
<rect x="667.09" y="971.27" width="5.97" height="4.23" fill="#fff"/>
<rect x="675.62" y="971.27" width="5.56" height="4.23" fill="#fff"/>
<path d="M602.18 998.3 C602.33 997.85 602.7 996.23 603.09 995.6 C603.48 994.97 603.95 994.58 604.51 994.53 C605.07 994.48 605.92 994.65 606.46 995.3 C607 995.94 607.44 997.18 607.76 998.4 C608.08 999.62 608.14 1001.17 608.4 1002.6 C608.66 1004.03 608.94 1005.6 609.31 1006.98 C609.68 1008.36 610.08 1009.92 610.6 1010.87 C611.12 1011.82 611.82 1012.47 612.43 1012.69 C613.04 1012.91 613.72 1012.56 614.24 1012.17 C614.76 1011.78 615.32 1010.65 615.54 1010.35" fill="none" stroke="#000" stroke-width="1.95" stroke-linecap="round" stroke-linejoin="round"/>
<path d="M608.15 1001.2 L602.5 1013.25" fill="none" stroke="#000" stroke-width="2.8" stroke-linecap="butt"/>
<text x="615.8" y="1019" font-size="19.04">1000</text>
<rect x="615.99" y="1016.38" width="4.51" height="3.62" fill="#fff"/>
<rect x="622.35" y="1016.38" width="4.16" height="3.62" fill="#fff"/>
<rect x="665.8" y="1005.05" width="13" height="1.9"/>
<rect x="665.8" y="1009.7" width="13" height="1.9"/>
<text x="687" y="1013.8" font-size="27.2">1.003</text>
<rect x="687.79" y="1010.57" width="5.97" height="4.23" fill="#fff"/>
<rect x="696.32" y="1010.57" width="5.56" height="4.23" fill="#fff"/>
<text x="434.5" y="893.8" font-size="34">f</text>
</svg>
</body></html>
